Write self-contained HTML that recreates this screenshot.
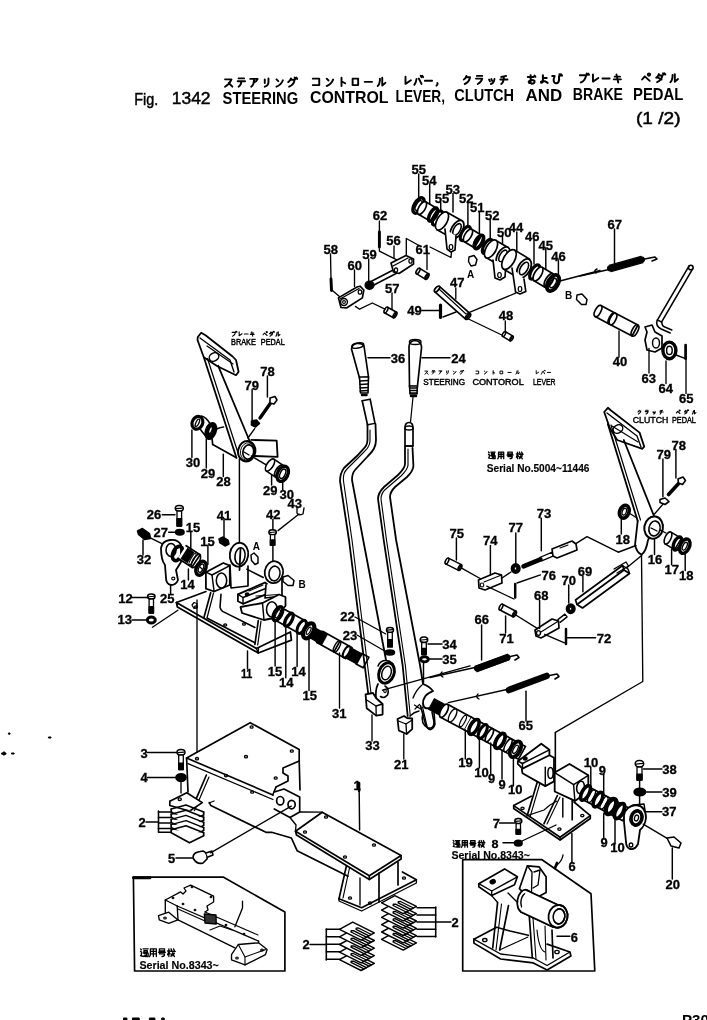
<!DOCTYPE html>
<html><head><meta charset="utf-8"><style>
html,body{margin:0;padding:0;background:#fff;}
body{width:707px;height:1020px;overflow:hidden;position:relative;}
svg{position:absolute;left:0;top:0;will-change:transform;}
svg path, svg ellipse, svg line, svg rect, svg polygon{stroke:#000;stroke-linejoin:round;stroke-linecap:round;}
text{font-family:"Liberation Sans",sans-serif;fill:#000;}
.n{font-weight:bold;}
.t{font-weight:bold;}
.s{font-family:"Liberation Serif",serif;font-weight:bold;}
</style></head><body>
<svg width="707" height="1020" viewBox="0 0 707 1020">
<text x="134.2" y="104.7" font-size="17.3" textLength="24.0" lengthAdjust="spacingAndGlyphs" stroke="#000" stroke-width="0.45">Fig.</text>
<text x="171.7" y="104.3" font-size="17.3" textLength="38.9" lengthAdjust="spacingAndGlyphs" stroke="#000" stroke-width="0.45">1342</text>
<text x="222.6" y="103.596" class="t" font-size="17.3" textLength="75.6" lengthAdjust="spacingAndGlyphs">STEERING</text>
<text x="310" y="102.7075" class="t" font-size="17.3" textLength="78.5" lengthAdjust="spacingAndGlyphs">CONTROL</text>
<text x="395.6" y="101.997" class="t" font-size="17.3" textLength="49.4" lengthAdjust="spacingAndGlyphs">LEVER,</text>
<text x="454.3" y="101.358" class="t" font-size="17.3" textLength="59.8" lengthAdjust="spacingAndGlyphs">CLUTCH</text>
<text x="525.5" y="100.7615" class="t" font-size="17.3" textLength="36.7" lengthAdjust="spacingAndGlyphs">AND</text>
<text x="572.8" y="100.221" class="t" font-size="17.3" textLength="50.2" lengthAdjust="spacingAndGlyphs">BRAKE</text>
<text x="633" y="99.6185" class="t" font-size="17.3" textLength="50.3" lengthAdjust="spacingAndGlyphs">PEDAL</text>
<text x="636" y="123.6" font-size="17" textLength="44.5" lengthAdjust="spacingAndGlyphs" stroke="#000" stroke-width="0.5">(1 /2)</text>
<text x="411.4" y="174.2" class="n" font-size="12" textLength="14.5" lengthAdjust="spacingAndGlyphs" stroke="#000" stroke-width="0.3">55</text>
<text x="422.0" y="184.5" class="n" font-size="12" textLength="14.5" lengthAdjust="spacingAndGlyphs" stroke="#000" stroke-width="0.3">54</text>
<text x="445.4" y="193.7" class="n" font-size="12" textLength="14.5" lengthAdjust="spacingAndGlyphs" stroke="#000" stroke-width="0.3">53</text>
<text x="434.8" y="202.7" class="n" font-size="12" textLength="14.5" lengthAdjust="spacingAndGlyphs" stroke="#000" stroke-width="0.3">55</text>
<text x="459.0" y="202.7" class="n" font-size="12" textLength="14.5" lengthAdjust="spacingAndGlyphs" stroke="#000" stroke-width="0.3">52</text>
<text x="469.9" y="212.1" class="n" font-size="12" textLength="14.5" lengthAdjust="spacingAndGlyphs" stroke="#000" stroke-width="0.3">51</text>
<text x="485.0" y="220.4" class="n" font-size="12" textLength="14.5" lengthAdjust="spacingAndGlyphs" stroke="#000" stroke-width="0.3">52</text>
<text x="496.9" y="237.0" class="n" font-size="12" textLength="14.5" lengthAdjust="spacingAndGlyphs" stroke="#000" stroke-width="0.3">50</text>
<text x="508.8" y="232.2" class="n" font-size="12" textLength="14.5" lengthAdjust="spacingAndGlyphs" stroke="#000" stroke-width="0.3">44</text>
<text x="525.0" y="240.8" class="n" font-size="12" textLength="14.5" lengthAdjust="spacingAndGlyphs" stroke="#000" stroke-width="0.3">46</text>
<text x="538.5" y="249.7" class="n" font-size="12" textLength="14.5" lengthAdjust="spacingAndGlyphs" stroke="#000" stroke-width="0.3">45</text>
<text x="551.2" y="261.1" class="n" font-size="12" textLength="14.5" lengthAdjust="spacingAndGlyphs" stroke="#000" stroke-width="0.3">46</text>
<text x="607.6" y="229.1" class="n" font-size="12" textLength="14.5" lengthAdjust="spacingAndGlyphs" stroke="#000" stroke-width="0.3">67</text>
<text x="372.8" y="219.9" class="n" font-size="12" textLength="14.5" lengthAdjust="spacingAndGlyphs" stroke="#000" stroke-width="0.3">62</text>
<text x="386.2" y="245.4" class="n" font-size="12" textLength="14.5" lengthAdjust="spacingAndGlyphs" stroke="#000" stroke-width="0.3">56</text>
<text x="415.6" y="254.4" class="n" font-size="12" textLength="14.5" lengthAdjust="spacingAndGlyphs" stroke="#000" stroke-width="0.3">61</text>
<text x="362.2" y="258.9" class="n" font-size="12" textLength="14.5" lengthAdjust="spacingAndGlyphs" stroke="#000" stroke-width="0.3">59</text>
<text x="323.4" y="254.0" class="n" font-size="12" textLength="14.5" lengthAdjust="spacingAndGlyphs" stroke="#000" stroke-width="0.3">58</text>
<text x="347.4" y="270.2" class="n" font-size="12" textLength="14.5" lengthAdjust="spacingAndGlyphs" stroke="#000" stroke-width="0.3">60</text>
<text x="384.9" y="292.8" class="n" font-size="12" textLength="14.5" lengthAdjust="spacingAndGlyphs" stroke="#000" stroke-width="0.3">57</text>
<text x="450.1" y="287.2" class="n" font-size="12" textLength="14.5" lengthAdjust="spacingAndGlyphs" stroke="#000" stroke-width="0.3">47</text>
<text x="470.6" y="277.5" class="n" font-size="10" text-anchor="middle">A</text>
<text x="407.2" y="315.4" class="n" font-size="12" textLength="14.5" lengthAdjust="spacingAndGlyphs" stroke="#000" stroke-width="0.3">49</text>
<text x="498.8" y="320.4" class="n" font-size="12" textLength="14.5" lengthAdjust="spacingAndGlyphs" stroke="#000" stroke-width="0.3">48</text>
<text x="568.7" y="298.9" class="n" font-size="10" text-anchor="middle">B</text>
<text x="612.8" y="365.9" class="n" font-size="12" textLength="14.5" lengthAdjust="spacingAndGlyphs" stroke="#000" stroke-width="0.3">40</text>
<text x="641.6" y="382.7" class="n" font-size="12" textLength="14.5" lengthAdjust="spacingAndGlyphs" stroke="#000" stroke-width="0.3">63</text>
<text x="658.4" y="393.0" class="n" font-size="12" textLength="14.5" lengthAdjust="spacingAndGlyphs" stroke="#000" stroke-width="0.3">64</text>
<text x="678.9" y="403.1" class="n" font-size="12" textLength="14.5" lengthAdjust="spacingAndGlyphs" stroke="#000" stroke-width="0.3">65</text>
<text x="390.8" y="362.8" class="n" font-size="12" textLength="14.5" lengthAdjust="spacingAndGlyphs" stroke="#000" stroke-width="0.3">36</text>
<text x="451.2" y="362.8" class="n" font-size="12" textLength="14.5" lengthAdjust="spacingAndGlyphs" stroke="#000" stroke-width="0.3">24</text>
<text x="260.2" y="375.8" class="n" font-size="12" textLength="14.5" lengthAdjust="spacingAndGlyphs" stroke="#000" stroke-width="0.3">78</text>
<text x="244.5" y="389.9" class="n" font-size="12" textLength="14.5" lengthAdjust="spacingAndGlyphs" stroke="#000" stroke-width="0.3">79</text>
<text x="185.8" y="466.9" class="n" font-size="12" textLength="14.5" lengthAdjust="spacingAndGlyphs" stroke="#000" stroke-width="0.3">30</text>
<text x="200.8" y="478.1" class="n" font-size="12" textLength="14.5" lengthAdjust="spacingAndGlyphs" stroke="#000" stroke-width="0.3">29</text>
<text x="216.2" y="485.8" class="n" font-size="12" textLength="14.5" lengthAdjust="spacingAndGlyphs" stroke="#000" stroke-width="0.3">28</text>
<text x="263.0" y="494.5" class="n" font-size="12" textLength="14.5" lengthAdjust="spacingAndGlyphs" stroke="#000" stroke-width="0.3">29</text>
<text x="279.6" y="498.7" class="n" font-size="12" textLength="14.5" lengthAdjust="spacingAndGlyphs" stroke="#000" stroke-width="0.3">30</text>
<text x="287.4" y="508.4" class="n" font-size="12" textLength="14.5" lengthAdjust="spacingAndGlyphs" stroke="#000" stroke-width="0.3">43</text>
<text x="216.7" y="519.6" class="n" font-size="12" textLength="14.5" lengthAdjust="spacingAndGlyphs" stroke="#000" stroke-width="0.3">41</text>
<text x="266.1" y="519.4" class="n" font-size="12" textLength="14.5" lengthAdjust="spacingAndGlyphs" stroke="#000" stroke-width="0.3">42</text>
<text x="146.8" y="519.2" class="n" font-size="12" textLength="14.5" lengthAdjust="spacingAndGlyphs" stroke="#000" stroke-width="0.3">26</text>
<text x="153.6" y="536.8" class="n" font-size="12" textLength="14.5" lengthAdjust="spacingAndGlyphs" stroke="#000" stroke-width="0.3">27</text>
<text x="185.7" y="532.1" class="n" font-size="12" textLength="14.5" lengthAdjust="spacingAndGlyphs" stroke="#000" stroke-width="0.3">15</text>
<text x="200.2" y="546.0" class="n" font-size="12" textLength="14.5" lengthAdjust="spacingAndGlyphs" stroke="#000" stroke-width="0.3">15</text>
<text x="136.7" y="563.9" class="n" font-size="12" textLength="14.5" lengthAdjust="spacingAndGlyphs" stroke="#000" stroke-width="0.3">32</text>
<text x="180.3" y="588.6" class="n" font-size="12" textLength="14.5" lengthAdjust="spacingAndGlyphs" stroke="#000" stroke-width="0.3">14</text>
<text x="160.1" y="602.9" class="n" font-size="12" textLength="14.5" lengthAdjust="spacingAndGlyphs" stroke="#000" stroke-width="0.3">25</text>
<text x="118.2" y="602.9" class="n" font-size="12" textLength="14.5" lengthAdjust="spacingAndGlyphs" stroke="#000" stroke-width="0.3">12</text>
<text x="117.6" y="624.4" class="n" font-size="12" textLength="14.5" lengthAdjust="spacingAndGlyphs" stroke="#000" stroke-width="0.3">13</text>
<text x="256.4" y="549.9" class="n" font-size="10" text-anchor="middle">A</text>
<text x="302.0" y="587.5" class="n" font-size="10" text-anchor="middle">B</text>
<text x="240.9" y="677.9" class="n" font-size="12" textLength="11.5" lengthAdjust="spacingAndGlyphs" stroke="#000" stroke-width="0.3">11</text>
<text x="267.8" y="675.6" class="n" font-size="12" textLength="14.5" lengthAdjust="spacingAndGlyphs" stroke="#000" stroke-width="0.3">15</text>
<text x="278.9" y="686.8" class="n" font-size="12" textLength="14.5" lengthAdjust="spacingAndGlyphs" stroke="#000" stroke-width="0.3">14</text>
<text x="291.2" y="675.9" class="n" font-size="12" textLength="14.5" lengthAdjust="spacingAndGlyphs" stroke="#000" stroke-width="0.3">14</text>
<text x="302.5" y="699.6" class="n" font-size="12" textLength="14.5" lengthAdjust="spacingAndGlyphs" stroke="#000" stroke-width="0.3">15</text>
<text x="332.1" y="717.9" class="n" font-size="12" textLength="14.5" lengthAdjust="spacingAndGlyphs" stroke="#000" stroke-width="0.3">31</text>
<text x="365.3" y="750.4" class="n" font-size="12" textLength="14.5" lengthAdjust="spacingAndGlyphs" stroke="#000" stroke-width="0.3">33</text>
<text x="340.2" y="621.1" class="n" font-size="12" textLength="14.5" lengthAdjust="spacingAndGlyphs" stroke="#000" stroke-width="0.3">22</text>
<text x="342.7" y="639.6" class="n" font-size="12" textLength="14.5" lengthAdjust="spacingAndGlyphs" stroke="#000" stroke-width="0.3">23</text>
<text x="394.1" y="768.7" class="n" font-size="12" textLength="14.5" lengthAdjust="spacingAndGlyphs" stroke="#000" stroke-width="0.3">21</text>
<text x="442.2" y="648.6" class="n" font-size="12" textLength="14.5" lengthAdjust="spacingAndGlyphs" stroke="#000" stroke-width="0.3">34</text>
<text x="442.2" y="663.7" class="n" font-size="12" textLength="14.5" lengthAdjust="spacingAndGlyphs" stroke="#000" stroke-width="0.3">35</text>
<text x="536.7" y="517.9" class="n" font-size="12" textLength="14.5" lengthAdjust="spacingAndGlyphs" stroke="#000" stroke-width="0.3">73</text>
<text x="449.5" y="537.6" class="n" font-size="12" textLength="14.5" lengthAdjust="spacingAndGlyphs" stroke="#000" stroke-width="0.3">75</text>
<text x="482.9" y="545.1" class="n" font-size="12" textLength="14.5" lengthAdjust="spacingAndGlyphs" stroke="#000" stroke-width="0.3">74</text>
<text x="508.5" y="532.4" class="n" font-size="12" textLength="14.5" lengthAdjust="spacingAndGlyphs" stroke="#000" stroke-width="0.3">77</text>
<text x="541.6" y="580.4" class="n" font-size="12" textLength="14.5" lengthAdjust="spacingAndGlyphs" stroke="#000" stroke-width="0.3">76</text>
<text x="577.8" y="576.2" class="n" font-size="12" textLength="14.5" lengthAdjust="spacingAndGlyphs" stroke="#000" stroke-width="0.3">69</text>
<text x="561.5" y="584.7" class="n" font-size="12" textLength="14.5" lengthAdjust="spacingAndGlyphs" stroke="#000" stroke-width="0.3">70</text>
<text x="534.0" y="600.2" class="n" font-size="12" textLength="14.5" lengthAdjust="spacingAndGlyphs" stroke="#000" stroke-width="0.3">68</text>
<text x="499.2" y="642.7" class="n" font-size="12" textLength="14.5" lengthAdjust="spacingAndGlyphs" stroke="#000" stroke-width="0.3">71</text>
<text x="596.8" y="642.7" class="n" font-size="12" textLength="14.5" lengthAdjust="spacingAndGlyphs" stroke="#000" stroke-width="0.3">72</text>
<text x="474.5" y="624.4" class="n" font-size="12" textLength="14.5" lengthAdjust="spacingAndGlyphs" stroke="#000" stroke-width="0.3">66</text>
<text x="518.6" y="729.9" class="n" font-size="12" textLength="14.5" lengthAdjust="spacingAndGlyphs" stroke="#000" stroke-width="0.3">65</text>
<text x="671.4" y="449.5" class="n" font-size="12" textLength="14.5" lengthAdjust="spacingAndGlyphs" stroke="#000" stroke-width="0.3">78</text>
<text x="656.5" y="459.4" class="n" font-size="12" textLength="14.5" lengthAdjust="spacingAndGlyphs" stroke="#000" stroke-width="0.3">79</text>
<text x="615.5" y="543.6" class="n" font-size="12" textLength="14.5" lengthAdjust="spacingAndGlyphs" stroke="#000" stroke-width="0.3">18</text>
<text x="647.8" y="563.7" class="n" font-size="12" textLength="14.5" lengthAdjust="spacingAndGlyphs" stroke="#000" stroke-width="0.3">16</text>
<text x="664.5" y="574.3" class="n" font-size="12" textLength="14.5" lengthAdjust="spacingAndGlyphs" stroke="#000" stroke-width="0.3">17</text>
<text x="678.9" y="579.9" class="n" font-size="12" textLength="14.5" lengthAdjust="spacingAndGlyphs" stroke="#000" stroke-width="0.3">18</text>
<text x="458.2" y="767.4" class="n" font-size="12" textLength="14.5" lengthAdjust="spacingAndGlyphs" stroke="#000" stroke-width="0.3">19</text>
<text x="474.2" y="776.5" class="n" font-size="12" textLength="14.5" lengthAdjust="spacingAndGlyphs" stroke="#000" stroke-width="0.3">10</text>
<text x="488.0" y="782.9" class="n" font-size="12" textLength="7.2" lengthAdjust="spacingAndGlyphs" stroke="#000" stroke-width="0.3">9</text>
<text x="498.6" y="788.8" class="n" font-size="12" textLength="7.2" lengthAdjust="spacingAndGlyphs" stroke="#000" stroke-width="0.3">9</text>
<text x="507.9" y="793.8" class="n" font-size="12" textLength="14.5" lengthAdjust="spacingAndGlyphs" stroke="#000" stroke-width="0.3">10</text>
<text x="583.8" y="766.8" class="n" font-size="12" textLength="14.5" lengthAdjust="spacingAndGlyphs" stroke="#000" stroke-width="0.3">10</text>
<text x="598.7" y="775.3" class="n" font-size="12" textLength="7.2" lengthAdjust="spacingAndGlyphs" stroke="#000" stroke-width="0.3">9</text>
<text x="600.6" y="847.0" class="n" font-size="12" textLength="7.2" lengthAdjust="spacingAndGlyphs" stroke="#000" stroke-width="0.3">9</text>
<text x="610.2" y="852.2" class="n" font-size="12" textLength="14.5" lengthAdjust="spacingAndGlyphs" stroke="#000" stroke-width="0.3">10</text>
<text x="662.2" y="774.0" class="n" font-size="12" textLength="14.5" lengthAdjust="spacingAndGlyphs" stroke="#000" stroke-width="0.3">38</text>
<text x="662.2" y="796.6" class="n" font-size="12" textLength="14.5" lengthAdjust="spacingAndGlyphs" stroke="#000" stroke-width="0.3">39</text>
<text x="662.0" y="815.9" class="n" font-size="12" textLength="14.5" lengthAdjust="spacingAndGlyphs" stroke="#000" stroke-width="0.3">37</text>
<text x="665.5" y="888.6" class="n" font-size="12" textLength="14.5" lengthAdjust="spacingAndGlyphs" stroke="#000" stroke-width="0.3">20</text>
<text x="492.7" y="828.2" class="n" font-size="12" textLength="7.2" lengthAdjust="spacingAndGlyphs" stroke="#000" stroke-width="0.3">7</text>
<text x="568.6" y="870.9" class="n" font-size="12" textLength="7.2" lengthAdjust="spacingAndGlyphs" stroke="#000" stroke-width="0.3">6</text>
<text x="570.7" y="941.6" class="n" font-size="12" textLength="7.2" lengthAdjust="spacingAndGlyphs" stroke="#000" stroke-width="0.3">6</text>
<text x="451.4" y="927.4" class="n" font-size="12" textLength="7.2" lengthAdjust="spacingAndGlyphs" stroke="#000" stroke-width="0.3">2</text>
<text x="140.6" y="757.8" class="n" font-size="12" textLength="7.2" lengthAdjust="spacingAndGlyphs" stroke="#000" stroke-width="0.3">3</text>
<text x="140.6" y="782.4" class="n" font-size="12" textLength="7.2" lengthAdjust="spacingAndGlyphs" stroke="#000" stroke-width="0.3">4</text>
<text x="138.5" y="826.6" class="n" font-size="12" textLength="7.2" lengthAdjust="spacingAndGlyphs" stroke="#000" stroke-width="0.3">2</text>
<text x="167.9" y="863.4" class="n" font-size="12" textLength="7.2" lengthAdjust="spacingAndGlyphs" stroke="#000" stroke-width="0.3">5</text>
<text x="353.4" y="790.2" class="n" font-size="12" textLength="7.2" lengthAdjust="spacingAndGlyphs" stroke="#000" stroke-width="0.3">1</text>
<text x="302.4" y="949.4" class="n" font-size="12" textLength="7.2" lengthAdjust="spacingAndGlyphs" stroke="#000" stroke-width="0.3">2</text>
<text x="231" y="345.2" font-size="8.6" textLength="24.8" lengthAdjust="spacingAndGlyphs" stroke="#000" stroke-width="0.45">BRAKE</text>
<text x="260.8" y="345.2" font-size="8.6" textLength="23.9" lengthAdjust="spacingAndGlyphs" stroke="#000" stroke-width="0.45">PEDAL</text>
<text x="423.2" y="384.6" font-size="9.2" textLength="42.0" lengthAdjust="spacingAndGlyphs" stroke="#000" stroke-width="0.45">STEERING</text>
<text x="472.4" y="384.6" font-size="9.2" textLength="51.3" lengthAdjust="spacingAndGlyphs" stroke="#000" stroke-width="0.45">CONTOROL</text>
<text x="533" y="384.6" font-size="9.2" textLength="22.5" lengthAdjust="spacingAndGlyphs" stroke="#000" stroke-width="0.45">LEVER</text>
<text x="632.8" y="423.1" font-size="9.4" textLength="35.5" lengthAdjust="spacingAndGlyphs" stroke="#000" stroke-width="0.45">CLUTCH</text>
<text x="672" y="423.1" font-size="9.4" textLength="23.9" lengthAdjust="spacingAndGlyphs" stroke="#000" stroke-width="0.45">PEDAL</text>
<text x="486.8" y="472.2" font-size="11.5" textLength="102.7" lengthAdjust="spacingAndGlyphs" font-weight="bold" stroke="#000" stroke-width="0.15">Serial  No.5004~11446</text>
<text x="451.4" y="859.2" font-size="11.5" textLength="78.5" lengthAdjust="spacingAndGlyphs" font-weight="bold" stroke="#000" stroke-width="0.15">Serial  No.8343~</text>
<text x="139.4" y="968.6" font-size="11.5" textLength="79.4" lengthAdjust="spacingAndGlyphs" font-weight="bold" stroke="#000" stroke-width="0.15">Serial  No.8343~</text>
<text x="491.5" y="848" class="n" font-size="11.5" textLength="7" lengthAdjust="spacingAndGlyphs" stroke="#000" stroke-width="0.3">8</text>
<text x="682" y="1025" font-size="15" font-weight="bold" textLength="27" lengthAdjust="spacingAndGlyphs">P30</text>
<rect x="123.9" y="1018" width="3.0" height="2" fill="#000"/>
<rect x="132.8" y="1018" width="6.4" height="2" fill="#000"/>
<rect x="149.8" y="1018" width="5.1" height="2" fill="#000"/>
<rect x="162.1" y="1018" width="2.1" height="2" fill="#000"/>
<rect x="8.8" y="733" width="1.2" height="1.2" fill="#000"/>
<rect x="48.8" y="737" width="2.2" height="1" fill="#000"/>
<rect x="2" y="753" width="4" height="1.2" fill="#000"/><rect x="3.5" y="752" width="1.2" height="3" fill="#000"/>
<rect x="11.9" y="753" width="2.2" height="1" fill="#000"/>
<ellipse cx="418.5" cy="205.5" rx="4.2" ry="8.5" transform="rotate(30 418.5 205.5)" stroke-width="3.4" fill="none"/>
<ellipse cx="418.5" cy="205.5" rx="2.2" ry="5.5" transform="rotate(30 418.5 205.5)" stroke-width="1.344" fill="none"/>
<path d="M418.4,214.2 L430.4,221.2 L437.6,208.8 L425.6,201.8" stroke-width="1.6800000000000002" fill="none"/>
<ellipse cx="434" cy="215" rx="3.24" ry="7.2" transform="rotate(30.256437163529263 434 215)" stroke-width="1.6800000000000002" fill="none"/>
<ellipse cx="422" cy="208" rx="3.24" ry="7.2" transform="rotate(30.256437163529263 422 208)" stroke-width="1.6800000000000002" fill="white"/>
<ellipse cx="433" cy="214.5" rx="3.2" ry="7.6" transform="rotate(30 433 214.5)" stroke-width="3.0" fill="none"/>
<ellipse cx="437.5" cy="218" rx="3.8" ry="8" transform="rotate(30 437.5 218)" stroke-width="3.2" fill="none"/>
<path d="M437.1,229.7 L452.1,238.2 L461.9,220.8 L446.9,212.3" stroke-width="1.6800000000000002" fill="none"/>
<ellipse cx="442" cy="221" rx="5" ry="10" transform="rotate(30 442 221)" stroke-width="1.6800000000000002" fill="white"/>
<ellipse cx="457" cy="229.5" rx="5.5" ry="10" transform="rotate(30 457 229.5)" stroke-width="1.7920000000000003" fill="white"/>
<ellipse cx="457" cy="229.5" rx="3.2" ry="6.5" transform="rotate(30 457 229.5)" stroke-width="1.568" fill="none"/>
<path d="M445.0,229.0 L447.0,249.0 L451.0,252.0 L455.0,250.0 L456.0,236.0" stroke-width="1.6800000000000002" fill="white"/>
<ellipse cx="451" cy="247" rx="1.8" ry="2.5" transform="rotate(0 451 247)" stroke-width="1.2320000000000002" fill="none"/>
<ellipse cx="465.3" cy="233.5" rx="3.6" ry="8" transform="rotate(30 465.3 233.5)" stroke-width="3.2" fill="none"/>
<path d="M464.3,241.7 L474.3,247.7 L481.7,235.3 L471.7,229.3" stroke-width="1.6800000000000002" fill="none"/>
<ellipse cx="478" cy="241.5" rx="3.24" ry="7.2" transform="rotate(30.96375653207352 478 241.5)" stroke-width="1.6800000000000002" fill="none"/>
<ellipse cx="468" cy="235.5" rx="3.24" ry="7.2" transform="rotate(30.96375653207352 468 235.5)" stroke-width="1.6800000000000002" fill="white"/>
<ellipse cx="479" cy="242" rx="3.4" ry="7.6" transform="rotate(30 479 242)" stroke-width="3.4" fill="none"/>
<ellipse cx="487.4" cy="246.5" rx="3.6" ry="8" transform="rotate(30 487.4 246.5)" stroke-width="3.2" fill="none"/>
<path d="M486.0,257.6 L498.0,264.6 L508.0,247.4 L496.0,240.4" stroke-width="1.6800000000000002" fill="none"/>
<ellipse cx="491" cy="249" rx="5" ry="10" transform="rotate(30 491 249)" stroke-width="1.6800000000000002" fill="white"/>
<ellipse cx="503" cy="256" rx="5.5" ry="10" transform="rotate(30 503 256)" stroke-width="1.7920000000000003" fill="white"/>
<ellipse cx="503" cy="256" rx="3.2" ry="6.5" transform="rotate(30 503 256)" stroke-width="1.568" fill="none"/>
<path d="M493.0,260.0 L495.0,278.0 L500.0,280.0 L505.0,277.0 L506.0,264.0" stroke-width="1.6800000000000002" fill="white"/>
<ellipse cx="499.5" cy="275" rx="1.8" ry="2.5" transform="rotate(0 499.5 275)" stroke-width="1.2320000000000002" fill="none"/>
<path d="M503.3,268.9 L518.3,277.9 L529.7,259.1 L514.7,250.1" stroke-width="1.6800000000000002" fill="none"/>
<ellipse cx="509" cy="259.5" rx="5.5" ry="11" transform="rotate(30 509 259.5)" stroke-width="1.6800000000000002" fill="white"/>
<ellipse cx="524" cy="268.5" rx="6" ry="10.5" transform="rotate(30 524 268.5)" stroke-width="1.7920000000000003" fill="white"/>
<ellipse cx="524" cy="268.5" rx="3.5" ry="7" transform="rotate(30 524 268.5)" stroke-width="1.568" fill="none"/>
<path d="M512.0,268.0 L515.6,292.0 L520.0,294.0 L525.8,291.5 L524.0,279.0" stroke-width="1.6800000000000002" fill="white"/>
<ellipse cx="520" cy="289" rx="1.8" ry="2.5" transform="rotate(0 520 289)" stroke-width="1.2320000000000002" fill="none"/>
<ellipse cx="534.7" cy="272" rx="3.6" ry="8" transform="rotate(30 534.7 272)" stroke-width="3.2" fill="none"/>
<path d="M534.0,280.7 L545.0,287.2 L553.0,273.8 L542.0,267.3" stroke-width="1.6800000000000002" fill="none"/>
<ellipse cx="549" cy="280.5" rx="3.51" ry="7.8" transform="rotate(30.579226872489016 549 280.5)" stroke-width="1.6800000000000002" fill="none"/>
<ellipse cx="538" cy="274" rx="3.51" ry="7.8" transform="rotate(30.579226872489016 538 274)" stroke-width="1.6800000000000002" fill="white"/>
<ellipse cx="553" cy="283" rx="5" ry="8.8" transform="rotate(30 553 283)" stroke-width="3.8" fill="none"/>
<ellipse cx="553" cy="283" rx="2.6" ry="5.2" transform="rotate(30 553 283)" stroke-width="1.4560000000000002" fill="none"/>
<path d="M559.0,281.3 L600.0,270.5" stroke-width="1.4560000000000002" fill="none"/>
<path d="M597,269 q-4,2 -1,4" stroke-width="1.4560000000000002" fill="none"/>
<path d="M610.9,271.6 L642.9,262.6 L641.1,256.4 L609.1,265.4" stroke-width="1.12" fill="none"/>
<path d="M610.0,268.5 L642.0,259.5" stroke-width="6.0" fill="none"/>
<path d="M642.0,259.5 L655.0,257.0 L657.0,259.0 L652.0,261.0" stroke-width="1.568" fill="none"/>
<path d="M609.0,269.5 L580.0,276.0" stroke-width="1.344" fill="none"/>
<path d="M614.5,229.0 L614.5,263.0" stroke-width="1.4560000000000002" fill="none"/>
<path d="M418.7,174.0 L418.7,199.0" stroke-width="1.4560000000000002" fill="none"/>
<path d="M429.7,184.0 L429.7,204.0" stroke-width="1.4560000000000002" fill="none"/>
<path d="M453.0,193.5 L453.0,212.0" stroke-width="1.4560000000000002" fill="none"/>
<path d="M440.7,202.0 L440.7,211.5" stroke-width="1.4560000000000002" fill="none"/>
<path d="M467.9,202.0 L467.9,226.0" stroke-width="1.4560000000000002" fill="none"/>
<path d="M479.4,211.5 L479.4,233.0" stroke-width="1.4560000000000002" fill="none"/>
<path d="M490.2,219.5 L490.2,239.0" stroke-width="1.4560000000000002" fill="none"/>
<path d="M502.5,236.5 L502.5,244.0" stroke-width="1.4560000000000002" fill="none"/>
<path d="M516.8,232.0 L516.8,251.6" stroke-width="1.4560000000000002" fill="none"/>
<path d="M534.0,240.0 L534.0,264.0" stroke-width="1.4560000000000002" fill="none"/>
<path d="M545.8,248.5 L545.8,268.6" stroke-width="1.4560000000000002" fill="none"/>
<path d="M558.4,260.0 L558.4,277.0" stroke-width="1.4560000000000002" fill="none"/>
<path d="M372.0,286.0 L399.0,272.0 L397.0,268.0 L370.0,282.0" stroke-width="1.4560000000000002" fill="none"/>
<ellipse cx="369.5" cy="285.2" rx="4.5" ry="4.2" transform="rotate(0 369.5 285.2)" stroke-width="1.12" fill="#000"/>
<path d="M391.0,263.0 L406.0,255.5 L413.5,259.0 L413.5,264.0 L399.0,273.5 L393.5,272.0 Z" stroke-width="1.6800000000000002" fill="white"/>
<path d="M393.0,266.0 L408.0,258.0" stroke-width="1.344" fill="none"/>
<ellipse cx="410.5" cy="261" rx="1.6" ry="2.2" transform="rotate(0 410.5 261)" stroke-width="1.2320000000000002" fill="none"/>
<ellipse cx="396" cy="270" rx="1.6" ry="2.2" transform="rotate(0 396 270)" stroke-width="1.2320000000000002" fill="none"/>
<path d="M416.3,273.7 L425.3,279.2 L428.7,273.8 L419.7,268.3" stroke-width="1.568" fill="none"/>
<ellipse cx="427" cy="276.5" rx="1.4400000000000002" ry="3.2" transform="rotate(31.429565614838516 427 276.5)" stroke-width="1.568" fill="none"/>
<ellipse cx="418" cy="271" rx="1.4400000000000002" ry="3.2" transform="rotate(31.429565614838516 418 271)" stroke-width="1.568" fill="white"/>
<path d="M406.3,255.5 L406.3,238.5 L419.0,245.5" stroke-width="1.344" fill="none"/>
<path d="M427.0,249.8 L427.0,269.6" stroke-width="1.344" fill="none"/>
<path d="M430.0,247.0 L451.0,257.5 L451.5,252.0" stroke-width="1.344" fill="none"/>
<path d="M394.0,246.0 L394.0,258.0" stroke-width="1.344" fill="none"/>
<path d="M379.4,221.0 L379.4,247.0" stroke-width="1.344" fill="none"/>
<path d="M379.4,232.0 L379.4,247.0" stroke-width="2.9120000000000004" fill="none"/>
<path d="M379.4,247.0 L379.4,251.2 L396.4,259.7" stroke-width="1.344" fill="none"/>
<path d="M368.7,259.0 L368.7,281.0" stroke-width="1.344" fill="none"/>
<path d="M330.5,254.0 L331.0,279.0" stroke-width="1.344" fill="none"/>
<path d="M331.0,279.0 L331.5,290.5" stroke-width="2.9120000000000004" fill="none"/>
<path d="M332.7,290.8 L341.2,297.9" stroke-width="1.344" fill="none"/>
<path d="M338.4,297.9 L357.0,287.0 L360.0,286.2 L363.8,290.0 L362.4,297.9 L346.9,307.8 L341.0,307.5 Z" stroke-width="1.6800000000000002" fill="white"/>
<path d="M340.0,299.0 L359.0,288.5" stroke-width="1.344" fill="none"/>
<ellipse cx="344" cy="302" rx="3.4" ry="3.4" transform="rotate(0 344 302)" stroke-width="1.4560000000000002" fill="none"/>
<ellipse cx="344" cy="302" rx="1.4" ry="1.4" transform="rotate(0 344 302)" stroke-width="1.12" fill="none"/>
<ellipse cx="360" cy="292" rx="1.8" ry="2.2" transform="rotate(0 360 292)" stroke-width="1.2320000000000002" fill="none"/>
<path d="M354.5,270.0 L354.5,286.6" stroke-width="1.344" fill="none"/>
<path d="M392.0,293.0 L392.0,309.0" stroke-width="1.344" fill="none"/>
<path d="M384.4,312.8 L393.4,317.8 L396.6,312.2 L387.6,307.2" stroke-width="1.568" fill="none"/>
<ellipse cx="395" cy="315" rx="1.4400000000000002" ry="3.2" transform="rotate(29.054604099077146 395 315)" stroke-width="1.568" fill="none"/>
<ellipse cx="386" cy="310" rx="1.4400000000000002" ry="3.2" transform="rotate(29.054604099077146 386 310)" stroke-width="1.568" fill="white"/>
<path d="M355.4,306.4 L359.6,309.2 L372.3,303.0 L385.0,309.2" stroke-width="1.344" fill="none"/>
<path d="M469,257 l5,-1.5 l3,4 l-1.5,5.5 l-4.5,1 l-2.5,-4.5 z" stroke-width="1.4560000000000002" fill="none"/>
<path d="M434.6,291.7 L465.6,319.2 L470.4,313.8 L439.4,286.3" stroke-width="1.6800000000000002" fill="none"/>
<ellipse cx="468" cy="316.5" rx="1.62" ry="3.6" transform="rotate(41.57612875506932 468 316.5)" stroke-width="1.6800000000000002" fill="none"/>
<ellipse cx="437" cy="289" rx="1.62" ry="3.6" transform="rotate(41.57612875506932 437 289)" stroke-width="1.6800000000000002" fill="white"/>
<path d="M439.0,289.0 L466.0,314.0" stroke-width="1.12" fill="none"/>
<path d="M455.8,288.0 L455.8,299.0" stroke-width="1.344" fill="none"/>
<path d="M440.5,305.0 L440.5,317.5" stroke-width="3.2" fill="none"/>
<path d="M421.8,310.6 L438.8,310.6" stroke-width="1.4560000000000002" fill="none"/>
<path d="M443.0,317.0 L456.0,312.0" stroke-width="1.344" fill="none"/>
<path d="M467.0,313.4 L515.6,293.2" stroke-width="1.344" fill="none"/>
<path d="M468.5,319.0 L503.9,336.0" stroke-width="1.344" fill="none"/>
<path d="M502.6,336.4 L510.1,340.9 L512.9,336.1 L505.4,331.6" stroke-width="1.4560000000000002" fill="none"/>
<ellipse cx="511.5" cy="338.5" rx="1.26" ry="2.8" transform="rotate(30.96375653207352 511.5 338.5)" stroke-width="1.4560000000000002" fill="none"/>
<ellipse cx="504" cy="334" rx="1.26" ry="2.8" transform="rotate(30.96375653207352 504 334)" stroke-width="1.4560000000000002" fill="white"/>
<path d="M505.3,321.0 L505.3,333.0" stroke-width="1.344" fill="none"/>
<path d="M577,295 l5,-1 l5,5.5 l-1,5 l-4.5,0 l-5,-5 z" stroke-width="1.4560000000000002" fill="none"/>
<path d="M595.1,316.5 L609.1,324.0 L614.9,313.0 L600.9,305.5" stroke-width="1.6800000000000002" fill="none"/>
<ellipse cx="612" cy="318.5" rx="2.79" ry="6.2" transform="rotate(28.178590109959174 612 318.5)" stroke-width="1.6800000000000002" fill="none"/>
<ellipse cx="598" cy="311" rx="2.79" ry="6.2" transform="rotate(28.178590109959174 598 311)" stroke-width="1.6800000000000002" fill="white"/>
<path d="M610.1,324.5 L632.1,336.0 L637.9,325.0 L615.9,313.5" stroke-width="1.6800000000000002" fill="none"/>
<ellipse cx="635" cy="330.5" rx="2.79" ry="6.2" transform="rotate(27.59729586864372 635 330.5)" stroke-width="1.6800000000000002" fill="none"/>
<ellipse cx="613" cy="319" rx="2.79" ry="6.2" transform="rotate(27.59729586864372 613 319)" stroke-width="1.6800000000000002" fill="white"/>
<path d="M619.0,331.0 L619.0,357.0" stroke-width="1.344" fill="none"/>
<path d="M645.0,327.0 L652.0,325.0 L655.0,332.0 L662.0,336.0 L662.0,348.0 L655.0,352.0 L647.0,350.0 L645.0,340.0 L647.0,332.0 Z" stroke-width="1.6800000000000002" fill="white"/>
<ellipse cx="656" cy="343" rx="3.5" ry="5" transform="rotate(0 656 343)" stroke-width="1.4560000000000002" fill="none"/>
<path d="M649.0,348.5 L649.0,373.0" stroke-width="1.344" fill="none"/>
<ellipse cx="669.4" cy="350.4" rx="6.5" ry="8.3" transform="rotate(0 669.4 350.4)" stroke-width="3.4" fill="none"/>
<ellipse cx="669.4" cy="350.4" rx="2.8" ry="4.2" transform="rotate(0 669.4 350.4)" stroke-width="1.4560000000000002" fill="none"/>
<path d="M666.0,361.0 L666.0,383.5" stroke-width="1.344" fill="none"/>
<path d="M685.6,345.0 L685.6,358.7" stroke-width="2.688" fill="none"/>
<path d="M676.0,355.0 L685.6,358.7" stroke-width="1.344" fill="none"/>
<path d="M686.0,359.0 L686.0,393.5" stroke-width="1.344" fill="none"/>
<path d="M688.8,266.3 L657.5,319.8 L661.5,322.2 L692.8,268.7" stroke-width="1.568" fill="none"/>
<path d="M657.2,320 q-2,6 4,9 l9,4" stroke-width="1.568" fill="none"/>
<path d="M661.8,322 q-0,4 3,5 l7,3" stroke-width="1.568" fill="none"/>
<ellipse cx="690.8" cy="267.5" rx="2.3" ry="2.3" transform="rotate(0 690.8 267.5)" stroke-width="1.568" fill="none"/>
<path d="M197.8,337.0 L201.2,332.7 L205.5,335.3 L232.6,356.5 L236.0,360.0 L238.6,371.8 L236.0,375.2 L217.0,366.0 L203.8,357.3 L197.5,340.0 Z" stroke-width="1.7920000000000003" fill="white"/>
<path d="M200.0,338.0 L230.0,360.0 L234.0,372.0" stroke-width="1.344" fill="none"/>
<path d="M207.0,346.0 L233.0,364.0" stroke-width="1.2320000000000002" fill="none"/>
<ellipse cx="214" cy="357" rx="5" ry="4" transform="rotate(-30 214 357)" stroke-width="1.4560000000000002" fill="none"/>
<path d="M203.8,357.3 L236.5,458.0" stroke-width="1.7920000000000003" fill="none"/>
<path d="M207.5,358.5 L239.0,456.0" stroke-width="1.2320000000000002" fill="none"/>
<path d="M218.2,365.8 L249.6,441.0" stroke-width="1.7920000000000003" fill="none"/>
<ellipse cx="246.7" cy="451.2" rx="8.6" ry="10.2" transform="rotate(10 246.7 451.2)" stroke-width="2.0160000000000005" fill="white"/>
<ellipse cx="248.3" cy="452" rx="5.4" ry="7.2" transform="rotate(10 248.3 452)" stroke-width="1.6800000000000002" fill="none"/>
<ellipse cx="247.5" cy="451.6" rx="7" ry="8.8" transform="rotate(10 247.5 451.6)" stroke-width="0.8960000000000001" fill="none"/>
<path d="M244.0,452.0 L249.0,455.0" stroke-width="1.344" fill="none"/>
<path d="M251.3,439.9 L276.7,440.7 L277.6,456.9 L254.7,456.0" stroke-width="1.7920000000000003" fill="none"/>
<path d="M213.8,431 Q217,428 223.5,427" stroke-width="1.6800000000000002" fill="none"/>
<path d="M212.1,439 L212.7,444.6 L236,457.5" stroke-width="1.6800000000000002" fill="none"/>
<path d="M201,416.5 L210,423.5 L211,438.5 L200,430 Z" fill="white" style="stroke:none"/>
<path d="M201.5,416 Q206,417 210,423.5 M200.5,429.5 Q205,436 209,438.5" stroke-width="1.568" fill="none"/>
<ellipse cx="210.8" cy="431" rx="4.2" ry="7.6" transform="rotate(20 210.8 431)" stroke-width="3.6" fill="#000"/>
<ellipse cx="210.5" cy="430" rx="1.2" ry="3.5" transform="rotate(20 210.5 430)" stroke-width="1.12" fill="none"/>
<ellipse cx="210.5" cy="430" rx="0.8" ry="3" transform="rotate(20 210.5 430)" fill="white" style="stroke:none"/>
<ellipse cx="197.4" cy="422.8" rx="5.2" ry="6.6" transform="rotate(25 197.4 422.8)" stroke-width="3.136" fill="white"/>
<ellipse cx="197.4" cy="422.8" rx="1.5" ry="4" transform="rotate(25 197.4 422.8)" stroke-width="1.344" fill="none"/>
<path d="M251.3,456.0 L268.3,466.2" stroke-width="1.4560000000000002" fill="none"/>
<path d="M266.1,470.8 L275.1,476.8 L282.9,465.2 L273.9,459.2" stroke-width="1.568" fill="none"/>
<ellipse cx="279" cy="471" rx="3.15" ry="7" transform="rotate(33.690067525979785 279 471)" stroke-width="1.568" fill="none"/>
<ellipse cx="270" cy="465" rx="3.15" ry="7" transform="rotate(33.690067525979785 270 465)" stroke-width="1.568" fill="white"/>
<ellipse cx="282.7" cy="473.8" rx="5.2" ry="8" transform="rotate(25 282.7 473.8)" stroke-width="3.4" fill="white"/>
<ellipse cx="282.7" cy="473.8" rx="2.5" ry="5" transform="rotate(25 282.7 473.8)" stroke-width="1.4560000000000002" fill="none"/>
<path d="M277.0,468.0 L280.0,470.0" stroke-width="1.12" fill="none"/>
<path d="M191.9,430.0 L191.9,457.5" stroke-width="1.4560000000000002" fill="none"/>
<path d="M206.3,439.0 L206.3,468.0" stroke-width="1.4560000000000002" fill="none"/>
<path d="M223.3,454.3 L223.3,476.4" stroke-width="1.4560000000000002" fill="none"/>
<path d="M271.6,474.7 L271.6,485.0" stroke-width="1.4560000000000002" fill="none"/>
<path d="M282.7,481.5 L282.7,490.0" stroke-width="1.4560000000000002" fill="none"/>
<path d="M239.4,459.0 L239.4,585.0" stroke-width="1.4560000000000002" fill="none"/>
<path d="M260.0,418.0 L272.0,401.0" stroke-width="3.4" fill="none"/>
<path d="M270,398 l5,-1.5 l2,3.5 l-3,4 l-4,-1 z" stroke-width="1.568" fill="white"/>
<path d="M251.5,421 l5,-1 l3,3.5 l-4,3.5 l-4,-2 z" stroke-width="1.568" fill="#000"/>
<path d="M267.4,376.0 L267.4,397.0" stroke-width="1.4560000000000002" fill="none"/>
<path d="M252.1,389.6 L252.1,420.0" stroke-width="1.4560000000000002" fill="none"/>
<path d="M254.7,428.6 L247.9,438.0" stroke-width="1.344" fill="none"/>
<rect x="175.3" y="505.6" width="8.0" height="5.5" rx="3.6" ry="2.8" fill="white" stroke-width="1.5"/>
<path d="M176.3,508.6 L182.3,508.1" stroke-width="1.12" fill="none"/>
<rect x="177.0" y="511.1" width="4.6" height="15.0" fill="white" stroke-width="1.3"/>
<rect x="177.0" y="518.6" width="4.6" height="7.5" fill="#000" stroke-width="1.3"/>
<path d="M162.3,514.8 L175.0,514.8" stroke-width="1.4560000000000002" fill="none"/>
<ellipse cx="179.8" cy="532.2" rx="4.2" ry="2.6" transform="rotate(0 179.8 532.2)" stroke-width="1.6800000000000002" fill="#000"/>
<path d="M168.7,532.3 L175.0,532.3" stroke-width="1.4560000000000002" fill="none"/>
<path d="M161,548 Q162,541 170,540 Q178,539 181,545 L181,562 Q178,567 176,570 L178,580 Q176,585 171,585 Q166,584 166,578 L165,565 Q161,560 161,548 Z" stroke-width="1.7920000000000003" fill="white"/>
<ellipse cx="171" cy="550" rx="5" ry="6.5" transform="rotate(0 171 550)" stroke-width="1.568" fill="none"/>
<ellipse cx="173.3" cy="578.5" rx="1.6" ry="1.4" transform="rotate(0 173.3 578.5)" stroke-width="1.12" fill="none"/>
<ellipse cx="177.5" cy="553.5" rx="4.5" ry="7.5" transform="rotate(25 177.5 553.5)" stroke-width="3.6" fill="none"/>
<path d="M177.9,558.3 L191.9,567.3 L200.1,554.7 L186.1,545.7" stroke-width="1.6800000000000002" fill="white"/>
<path d="M184.0,553.3 L191.0,557.7" stroke-width="13" fill="none" style="stroke-linecap:butt"/>
<ellipse cx="196" cy="561" rx="3.2" ry="7.5" transform="rotate(30 196 561)" stroke-width="1.568" fill="none"/>
<ellipse cx="192.5" cy="559" rx="1.5" ry="6.5" transform="rotate(30 192.5 559)" stroke-width="1.12" fill="none"/>
<ellipse cx="201" cy="568.2" rx="4.6" ry="7.4" transform="rotate(25 201 568.2)" stroke-width="3.4" fill="white"/>
<ellipse cx="201" cy="568.2" rx="2.2" ry="4.4" transform="rotate(25 201 568.2)" stroke-width="1.344" fill="none"/>
<path d="M199.0,566.0 L203.0,570.0" stroke-width="1.12" fill="none"/>
<path d="M137.5,531 l5,-2.5 l7,5 l1,5 l-6,1 l-6,-5 z" stroke-width="1.4560000000000002" fill="#000"/>
<path d="M150.3,537.8 L161.4,543.3" stroke-width="1.344" fill="none"/>
<path d="M143.0,540.0 L143.0,555.0" stroke-width="1.4560000000000002" fill="none"/>
<path d="M190.8,531.5 L190.8,552.5" stroke-width="1.4560000000000002" fill="none"/>
<path d="M207.9,545.2 L207.9,564.5" stroke-width="1.4560000000000002" fill="none"/>
<path d="M188.4,569.0 L188.4,580.0" stroke-width="1.4560000000000002" fill="none"/>
<path d="M170.6,585.5 L170.6,594.0" stroke-width="1.4560000000000002" fill="none"/>
<rect x="147.6" y="594.0" width="7.4" height="5.0" rx="3.4" ry="2.5" fill="white" stroke-width="1.5"/>
<path d="M148.6,596.8 L154.0,596.2" stroke-width="1.12" fill="none"/>
<rect x="149.1" y="599.0" width="4.4" height="14.0" fill="white" stroke-width="1.3"/>
<rect x="149.1" y="606.7" width="4.4" height="6.3" fill="#000" stroke-width="1.3"/>
<path d="M132.0,597.6 L147.6,597.6" stroke-width="1.4560000000000002" fill="none"/>
<ellipse cx="151.3" cy="620" rx="4" ry="3" transform="rotate(0 151.3 620)" stroke-width="3.0" fill="none"/>
<path d="M132.0,620.0 L147.0,620.0" stroke-width="1.4560000000000002" fill="none"/>
<path d="M152.4,627.2 L177.9,610.2" stroke-width="1.344" fill="none"/>
<path d="M219,539 l4,-2 l5,3 l1,4 l-4,2 l-5,-3 z" stroke-width="1.4560000000000002" fill="#000"/>
<path d="M224.0,518.5 L224.0,538.0" stroke-width="1.4560000000000002" fill="none"/>
<rect x="268.9" y="529.7" width="7.4" height="5.0" rx="3.4" ry="2.5" fill="white" stroke-width="1.5"/>
<path d="M269.9,532.5 L275.3,532.0" stroke-width="1.12" fill="none"/>
<rect x="270.4" y="534.7" width="4.4" height="10.5" fill="white" stroke-width="1.3"/>
<rect x="270.4" y="540.0" width="4.4" height="5.2" fill="#000" stroke-width="1.3"/>
<path d="M272.9,519.5 L272.9,529.7" stroke-width="1.4560000000000002" fill="none"/>
<path d="M272.9,545.0 L272.9,562.8" stroke-width="1.4560000000000002" fill="none"/>
<path d="M297,508 l0,5 q1,3 6,1 l1,-6" stroke-width="1.344" fill="none"/>
<path d="M299.0,514.0 L278.0,530.6" stroke-width="1.344" fill="none"/>
<path d="M176.4,602.5 L206.0,591.5" stroke-width="1.6800000000000002" fill="none"/>
<path d="M176.4,602.5 L177.4,607.0 L258.3,653.0 L291.4,640.2 L290.4,632.0 L256.4,648.5 L176.4,602.5" stroke-width="1.7920000000000003" fill="white"/>
<path d="M256.4,648.5 L258.3,653.0" stroke-width="1.4560000000000002" fill="none"/>
<ellipse cx="196" cy="607" rx="1.5" ry="1.2" transform="rotate(0 196 607)" stroke-width="1.344" fill="none"/>
<ellipse cx="244" cy="624" rx="1.4" ry="1.2" transform="rotate(0 244 624)" stroke-width="1.344" fill="none"/>
<path d="M210.7,592.7 L204.0,617.3" stroke-width="1.6800000000000002" fill="none"/>
<path d="M213.5,593.0 L207.0,618.0" stroke-width="1.2320000000000002" fill="none"/>
<path d="M207.3,618.2 L254.9,642.8" stroke-width="1.6800000000000002" fill="none"/>
<path d="M221,594.4 L220,607.2 Q220.5,610 222.6,611.4 L254.9,627.5" stroke-width="1.568" fill="none"/>
<path d="M258.3,620.7 L254.9,644.5" stroke-width="1.6800000000000002" fill="none"/>
<path d="M261.0,621.0 L257.7,645.0" stroke-width="1.2320000000000002" fill="none"/>
<ellipse cx="225.2" cy="625" rx="1.5" ry="1.1" transform="rotate(0 225.2 625)" stroke-width="1.344" fill="none"/>
<path d="M192,605 l2,-2.5 l3,1 l0,4 l-3,1 z" stroke-width="1.2320000000000002" fill="none"/>
<path d="M258.3,653.0 L258.5,648.0" stroke-width="1.344" fill="none"/>
<path d="M205.9,572.2 L223.3,563.0 L229.8,565.7 L229.8,585.0 L214.1,591.5 L205.9,588.7 Z" stroke-width="1.7920000000000003" fill="white"/>
<path d="M205.9,572.2 L212.0,575.0 L229.8,565.7" stroke-width="1.4560000000000002" fill="none"/>
<path d="M212.0,575.0 L214.1,591.5" stroke-width="1.4560000000000002" fill="none"/>
<ellipse cx="221.5" cy="580.5" rx="5.2" ry="7.5" transform="rotate(0 221.5 580.5)" stroke-width="1.568" fill="none"/>
<path d="M230,565 L231,588 L248,586 L248,566" stroke-width="1.6800000000000002" fill="white"/>
<ellipse cx="239" cy="554.7" rx="9.2" ry="12" transform="rotate(8 239 554.7)" stroke-width="1.7920000000000003" fill="white"/>
<ellipse cx="240" cy="556" rx="5" ry="8.3" transform="rotate(8 240 556)" stroke-width="1.568" fill="none"/>
<path d="M240.5,549.0 L239.5,570.0" stroke-width="1.7920000000000003" fill="none"/>
<path d="M237.9,594.4 L265.0,582.5 L270.1,586.8 L270.1,592.7 L243.0,603.8 L237.9,601.2 Z" stroke-width="1.7920000000000003" fill="white"/>
<path d="M237.9,594.4 L243.0,597.5 L270.1,586.8" stroke-width="1.4560000000000002" fill="none"/>
<path d="M243.0,597.5 L243.0,603.8" stroke-width="1.4560000000000002" fill="none"/>
<ellipse cx="247.2" cy="594.4" rx="1.6" ry="1.2" transform="rotate(0 247.2 594.4)" stroke-width="1.7920000000000003" fill="#000"/>
<path d="M249.0,591.0 L263.0,585.0" stroke-width="1.12" fill="none"/>
<path d="M266,585 L265,598 L282,596 L282,578" stroke-width="1.6800000000000002" fill="white"/>
<ellipse cx="273.9" cy="572.2" rx="9.2" ry="11" transform="rotate(8 273.9 572.2)" stroke-width="1.7920000000000003" fill="white"/>
<ellipse cx="274.5" cy="573.5" rx="5.5" ry="7.4" transform="rotate(8 274.5 573.5)" stroke-width="1.568" fill="none"/>
<path d="M246.8,569.2 L263.3,577.5" stroke-width="1.4560000000000002" fill="none"/>
<path d="M283,577 l5,-1.5 l6,5 l-1,5 l-5,0 l-5,-4 z" stroke-width="1.4560000000000002" fill="none"/>
<path d="M251,555 l3,-2 l4,4 l0,6 l-3,1.5 l-3.5,-4 z" stroke-width="1.4560000000000002" fill="none"/>
<path d="M240.5,607.0 L262.5,603.0 L279.0,594.5 L285.5,597.0 L285.5,606.0 L274.0,618.0 L264.0,620.0 L242.0,613.0 Z" stroke-width="1.7920000000000003" fill="white"/>
<path d="M262.5,603.0 L264.0,620.0" stroke-width="1.4560000000000002" fill="none"/>
<path d="M256.0,596.0 L279.0,594.5" stroke-width="1.12" fill="none"/>
<ellipse cx="271.9" cy="609.4" rx="5.4" ry="7.6" transform="rotate(0 271.9 609.4)" stroke-width="1.568" fill="none"/>
<path d="M277.6,621.5 L296.6,632.1 L303.4,619.8 L284.4,609.3" stroke-width="1.6800000000000002" fill="white"/>
<path d="M296.8,631.7 L308.8,638.4 L315.2,626.9 L303.2,620.2" stroke-width="1.6800000000000002" fill="white"/>
<path d="M316.9,642.6 L333.9,652.0 L340.1,641.0 L323.1,631.6" stroke-width="1.6800000000000002" fill="white"/>
<path d="M334.9,652.6 L345.9,658.7 L352.1,647.7 L341.1,641.5" stroke-width="1.6800000000000002" fill="white"/>
<path d="M356.1,664.0 L363.1,667.8 L368.9,657.3 L361.9,653.5" stroke-width="1.6800000000000002" fill="white"/>
<ellipse cx="288.9" cy="619.8050000000001" rx="3.0" ry="7.2" transform="rotate(29 288.9 619.8050000000001)" stroke-width="3.4" fill="none"/>
<ellipse cx="277.9" cy="613.7" rx="3.6" ry="7.6" transform="rotate(29 277.9 613.7)" stroke-width="3.6" fill="white"/>
<ellipse cx="277.9" cy="613.7" rx="1.5" ry="4.5" transform="rotate(29 277.9 613.7)" stroke-width="1.2320000000000002" fill="none"/>
<ellipse cx="301.7" cy="626.9090000000001" rx="3.6" ry="7.2" transform="rotate(29 301.7 626.9090000000001)" stroke-width="3.0" fill="white"/>
<ellipse cx="308.7" cy="630.7940000000001" rx="4.6" ry="8.2" transform="rotate(29 308.7 630.7940000000001)" stroke-width="4.2" fill="white"/>
<ellipse cx="308.7" cy="630.7940000000001" rx="1.6" ry="4.0" transform="rotate(29 308.7 630.7940000000001)" stroke-width="1.2320000000000002" fill="none"/>
<path d="M312.0,632.6 L325.0,639.8" stroke-width="12.5" fill="none" style="stroke-linecap:butt"/>
<path d="M349.0,653.2 L360.0,659.3" stroke-width="12.5" fill="none" style="stroke-linecap:butt"/>
<ellipse cx="346.6" cy="651.8285000000001" rx="2.6" ry="6.3" transform="rotate(29 346.6 651.8285000000001)" stroke-width="2.0160000000000005" fill="none"/>
<ellipse cx="337" cy="646.5005000000001" rx="2.4" ry="6.3" transform="rotate(29 337 646.5005000000001)" stroke-width="1.4560000000000002" fill="none"/>
<ellipse cx="320" cy="637.0655" rx="2.4" ry="6.3" transform="rotate(29 320 637.0655)" stroke-width="1.4560000000000002" fill="none"/>
<path d="M247.5,651.0 L247.5,669.0" stroke-width="1.4560000000000002" fill="none"/>
<path d="M275.1,620.0 L275.1,666.0" stroke-width="1.4560000000000002" fill="none"/>
<path d="M285.8,628.0 L285.8,677.7" stroke-width="1.4560000000000002" fill="none"/>
<path d="M297.1,633.0 L297.1,666.4" stroke-width="1.4560000000000002" fill="none"/>
<path d="M309.0,639.0 L309.0,690.4" stroke-width="1.4560000000000002" fill="none"/>
<path d="M197.0,600.0 L197.0,757.0" stroke-width="1.344" fill="none"/>
<path d="M351.5,349 Q352,344 357,343.5 Q362,343 364,346 L368.5,377 L359.5,378 Z" stroke-width="1.6800000000000002" fill="white"/>
<ellipse cx="357.8" cy="345.5" rx="6" ry="2.6" transform="rotate(-10 357.8 345.5)" stroke-width="1.4560000000000002" fill="none"/>
<path d="M359.5,377.0 L360.5,393.0 L368.0,393.0 L368.5,377.0 Z" stroke-width="1.568" fill="white"/>
<path d="M360.0,381.0 L368.0,380.5" stroke-width="1.344" fill="none"/>
<path d="M360.0,384.5 L368.0,384.0" stroke-width="1.344" fill="none"/>
<path d="M360.0,388.0 L368.0,387.5" stroke-width="1.344" fill="none"/>
<path d="M360.0,391.0 L368.0,390.5" stroke-width="1.344" fill="none"/>
<path d="M362.0,395.0 L366.5,395.0" stroke-width="2.4640000000000004" fill="none"/>
<path d="M368.0,357.7 L390.0,357.7" stroke-width="1.4560000000000002" fill="none"/>
<path d="M362.2,400.7 L367.5,424.8" stroke-width="1.6800000000000002" fill="none"/>
<path d="M370.2,399.3 L375.0,423.4" stroke-width="1.6800000000000002" fill="none"/>
<path d="M362.2,400.7 L370.2,399.3" stroke-width="1.4560000000000002" fill="none"/>
<path d="M367.5,424.8 L375.0,423.4" stroke-width="1.4560000000000002" fill="none"/>
<path d="M367.5,425 L367.5,440 C367.5,446 364,448 358,455 L344,468 C341,472 340,476 340,481 L349,540 L368.4,695" stroke-width="1.7920000000000003" fill="none"/>
<path d="M375.5,424 L376,440 C376,447 373,451 368,456 L355,470 C352.5,473 352,476 352,480 L363.2,540 L386,660" stroke-width="1.7920000000000003" fill="none"/>
<path d="M370,430 L370,441 C370,446 367,449 362,454 L347,469 C344,472 343,476 343.5,481 L352,540 L371,693" stroke-width="1.12" fill="none"/>
<path d="M409,347 Q409,341 415,340.5 Q421,341 421.6,347 L417.4,386.6 L409.5,386.6 Z" stroke-width="1.6800000000000002" fill="white"/>
<ellipse cx="415.2" cy="342" rx="5.8" ry="2.6" transform="rotate(0 415.2 342)" stroke-width="1.4560000000000002" fill="none"/>
<path d="M409.5,386.0 L410.0,394.0 L417.0,394.0 L417.4,386.0 Z" stroke-width="1.568" fill="white"/>
<path d="M410.0,388.0 L417.0,388.0" stroke-width="1.344" fill="none"/>
<path d="M410.0,390.5 L417.0,390.5" stroke-width="1.344" fill="none"/>
<path d="M410.0,393.0 L417.0,393.0" stroke-width="1.344" fill="none"/>
<path d="M411.0,396.0 L416.0,396.0" stroke-width="2.4640000000000004" fill="none"/>
<path d="M422.0,357.7 L450.0,357.7" stroke-width="1.4560000000000002" fill="none"/>
<path d="M413.0,397.0 L410.5,422.0" stroke-width="1.2320000000000002" fill="none"/>
<path d="M405,428 Q405,422.5 409,422.5 Q413,422.5 413,428 L413,446 L405,446 Z" stroke-width="1.6800000000000002" fill="white"/>
<ellipse cx="409" cy="428" rx="4" ry="2" transform="rotate(0 409 428)" stroke-width="1.344" fill="none"/>
<path d="M405.0,446.0 L413.0,446.0" stroke-width="1.4560000000000002" fill="none"/>
<path d="M405,447 L405,464 C405,468 402,471 398,475 L384,487 C380,491 378,495 378,499 L383.7,540 L402.6,665 L407.7,716" stroke-width="1.7920000000000003" fill="none"/>
<path d="M412.5,448 L413.4,465.5 C413.5,470 411,473 407,477 L395,487 C392,490 390,493 390,497 L396.1,540 L420,665 L423,684" stroke-width="1.7920000000000003" fill="none"/>
<path d="M408,449 L408,465 C408,469 405,472 401,476 L387,488 C383,491 381,495 381,499 L386.5,540 L405.3,665 L410.3,716" stroke-width="1.12" fill="none"/>
<ellipse cx="386.5" cy="673" rx="7.5" ry="10.5" transform="rotate(20 386.5 673)" stroke-width="3.0" fill="white"/>
<ellipse cx="386.5" cy="673" rx="4.5" ry="7" transform="rotate(20 386.5 673)" stroke-width="1.4560000000000002" fill="none"/>
<path d="M378,666 Q381,659 389,661 L393,664" stroke-width="1.568" fill="none"/>
<path d="M378,684 Q375,690 376.2,699.4 L381.8,706.5" stroke-width="1.6800000000000002" fill="none"/>
<path d="M385,686 Q390,689 387.5,695 Q384,699 380.5,696.5" stroke-width="1.568" fill="none"/>
<ellipse cx="385" cy="691" rx="1.3" ry="1.6" transform="rotate(0 385 691)" stroke-width="1.12" fill="none"/>
<path d="M365.6,694.4 L373.0,693.0 L376.0,698.0 L382.6,704.0 L382.6,714.6 L376.2,715.6 L366.7,708.2 Z" stroke-width="1.7920000000000003" fill="white"/>
<path d="M366.7,700.0 L376.0,706.0 L382.6,704.0" stroke-width="1.344" fill="none"/>
<path d="M376.0,706.0 L376.2,715.6" stroke-width="1.344" fill="none"/>
<path d="M372.0,715.0 L372.0,741.0" stroke-width="1.344" fill="none"/>
<path d="M423,684 Q429,686 433,691" stroke-width="1.7920000000000003" fill="none"/>
<path d="M432.4,691.3 Q426,694 424.7,697.3 Q422.5,701 423,703.2 Q423,707 426,708.3 L431.5,708.3" stroke-width="1.9040000000000001" fill="none"/>
<path d="M420.5,705.7 L425.6,724.4 Q428,730 430.7,729.5 Q434,728 434.9,724.4 L434,712.5" stroke-width="1.6800000000000002" fill="none"/>
<path d="M422.5,707 L427,726" stroke-width="1.12" fill="none"/>
<path d="M413,698 Q416,690 422,685" stroke-width="1.344" fill="none"/>
<path d="M414.5,705 L420.5,709 M419.5,704.5 L415,709" stroke-width="1.2320000000000002" fill="none"/>
<path d="M410,716 Q414,712 419,711" stroke-width="1.4560000000000002" fill="none"/>
<path d="M397.5,719.0 L404.0,716.0 L407.0,718.0 L412.2,718.5 L412.2,729.1 L406.6,734.0 L398.8,730.5 Z" stroke-width="1.7920000000000003" fill="white"/>
<path d="M398.5,721.0 L406.0,724.0 L412.2,720.0" stroke-width="1.344" fill="none"/>
<path d="M406.0,724.0 L406.6,734.0" stroke-width="1.344" fill="none"/>
<path d="M403.8,734.0 L403.8,759.0" stroke-width="1.344" fill="none"/>
<path d="M423,713 Q420,724 428,728 Q434,729 434,722 L432,712" stroke-width="1.568" fill="none"/>
<rect x="386.5" y="627.4" width="7.0" height="5.0" rx="3.2" ry="2.5" fill="white" stroke-width="1.5"/>
<path d="M387.5,630.1 L392.5,629.6" stroke-width="1.12" fill="none"/>
<rect x="387.7" y="632.4" width="4.6" height="14.5" fill="white" stroke-width="1.3"/>
<rect x="387.7" y="639.6" width="4.6" height="7.2" fill="#000" stroke-width="1.3"/>
<ellipse cx="389.8" cy="652.5" rx="4.6" ry="2.4" transform="rotate(0 389.8 652.5)" stroke-width="1.6800000000000002" fill="#000"/>
<path d="M355.0,617.0 L385.8,634.0" stroke-width="1.344" fill="none"/>
<path d="M357.0,635.0 L384.7,651.0" stroke-width="1.344" fill="none"/>
<rect x="420.2" y="637.0" width="7.5" height="5.5" rx="3.4" ry="2.8" fill="white" stroke-width="1.5"/>
<path d="M421.2,640.0 L426.8,639.5" stroke-width="1.12" fill="none"/>
<rect x="421.7" y="642.5" width="4.6" height="12.0" fill="white" stroke-width="1.3"/>
<rect x="421.7" y="648.5" width="4.6" height="6.0" fill="#000" stroke-width="1.3"/>
<ellipse cx="424.5" cy="659.3" rx="3.8" ry="2.6" transform="rotate(0 424.5 659.3)" stroke-width="2.9120000000000004" fill="none"/>
<path d="M428.0,644.0 L442.0,644.0" stroke-width="1.4560000000000002" fill="none"/>
<path d="M429.0,659.0 L442.0,659.0" stroke-width="1.4560000000000002" fill="none"/>
<path d="M423.5,663.0 L423.5,683.0" stroke-width="1.4560000000000002" fill="none"/>
<path d="M339.5,653.0 L339.5,708.0" stroke-width="1.344" fill="none"/>
<path d="M604.2,412.0 L607.9,407.8 L610.7,410.2 L639.6,432.6 L644.2,446.6 L642.4,448.8 L617.2,440.0 L609.8,428.0 Z" stroke-width="1.7920000000000003" fill="white"/>
<path d="M607.0,413.0 L637.0,436.0 L641.0,447.0" stroke-width="1.344" fill="none"/>
<path d="M612.0,426.0 L638.0,442.0" stroke-width="1.12" fill="none"/>
<ellipse cx="618" cy="429" rx="5" ry="4" transform="rotate(-30 618 429)" stroke-width="1.4560000000000002" fill="none"/>
<path d="M607.9,424.2 L637.7,521.0" stroke-width="1.7920000000000003" fill="none"/>
<path d="M611.0,425.0 L640.5,520.0" stroke-width="1.2320000000000002" fill="none"/>
<path d="M623.8,440.0 L654.0,516.0" stroke-width="1.7920000000000003" fill="none"/>
<path d="M637.7,521 L635,545 Q637,553 641.5,554.6 Q646,552 648,540 L652,533" stroke-width="1.7920000000000003" fill="none"/>
<ellipse cx="653.6" cy="527.6" rx="9.3" ry="11.2" transform="rotate(10 653.6 527.6)" stroke-width="2.0160000000000005" fill="white"/>
<ellipse cx="654.5" cy="528.5" rx="5.6" ry="7.5" transform="rotate(10 654.5 528.5)" stroke-width="1.568" fill="none"/>
<path d="M651.0,528.0 L657.0,531.0" stroke-width="1.344" fill="none"/>
<ellipse cx="624.3" cy="511.7" rx="4.6" ry="6.6" transform="rotate(20 624.3 511.7)" stroke-width="3.6" fill="white"/>
<ellipse cx="624.3" cy="511.7" rx="2" ry="3.5" transform="rotate(20 624.3 511.7)" stroke-width="1.344" fill="none"/>
<path d="M629.0,513.0 L637.0,518.0" stroke-width="1.344" fill="none"/>
<path d="M660.0,530.0 L666.0,533.0" stroke-width="1.344" fill="none"/>
<path d="M664.6,543.7 L674.6,549.7 L681.4,538.3 L671.4,532.3" stroke-width="1.568" fill="none"/>
<ellipse cx="668" cy="538" rx="3" ry="6.6" transform="rotate(25 668 538)" stroke-width="1.568" fill="white"/>
<ellipse cx="677.5" cy="543.5" rx="3.5" ry="7" transform="rotate(25 677.5 543.5)" stroke-width="3.4" fill="none"/>
<ellipse cx="684.8" cy="546.2" rx="4.6" ry="7.6" transform="rotate(25 684.8 546.2)" stroke-width="3.4" fill="white"/>
<ellipse cx="684.8" cy="546.2" rx="2" ry="4.2" transform="rotate(25 684.8 546.2)" stroke-width="1.344" fill="none"/>
<path d="M621.3,518.0 L621.3,534.0" stroke-width="1.4560000000000002" fill="none"/>
<path d="M654.5,539.0 L654.5,554.6" stroke-width="1.4560000000000002" fill="none"/>
<path d="M671.6,549.0 L671.6,564.8" stroke-width="1.4560000000000002" fill="none"/>
<path d="M685.2,554.6 L685.2,570.4" stroke-width="1.4560000000000002" fill="none"/>
<path d="M675.9,449.5 L675.9,478.0" stroke-width="1.4560000000000002" fill="none"/>
<path d="M662.9,459.0 L662.9,496.8" stroke-width="1.4560000000000002" fill="none"/>
<path d="M668.5,494.5 L680.0,482.0" stroke-width="3.6" fill="none"/>
<path d="M678,479 l5,-2 l2.5,3.5 l-3,4 l-4,-1.5 z" stroke-width="1.568" fill="white"/>
<path d="M660,499.5 l5,-1.5 l4,3.5 l-4,3 l-5,-2 z" stroke-width="1.568" fill="white"/>
<path d="M662.9,504.3 L654.5,514.0" stroke-width="1.344" fill="none"/>
<path d="M575.8,543.7 L587.0,536.7 L618.2,552.2 L636.0,545.5" stroke-width="1.4560000000000002" fill="none"/>
<path d="M641.5,555.0 L642.8,681.5 L555.4,732.4 L555.4,790.0" stroke-width="1.344" fill="none"/>
<path d="M523.5,566.4 L540.4,559.3" stroke-width="4.6" fill="none"/>
<path d="M541.1,561.1 L553.7,555.8 L552.3,552.2 L539.7,557.5" stroke-width="1.344" fill="none"/>
<path d="M552.0,549.0 L572.0,541.0 L576.0,544.0 L577.0,550.0 L557.0,558.0 L553.0,556.0 Z" stroke-width="1.6800000000000002" fill="white"/>
<path d="M560.0,548.0 L568.0,545.0" stroke-width="1.12" fill="none"/>
<path d="M541.3,518.3 L541.3,550.8" stroke-width="1.4560000000000002" fill="none"/>
<path d="M445.6,563.9 L458.6,570.4 L461.4,564.6 L448.4,558.1" stroke-width="1.568" fill="none"/>
<ellipse cx="460" cy="567.5" rx="1.4400000000000002" ry="3.2" transform="rotate(26.56505117707799 460 567.5)" stroke-width="1.568" fill="none"/>
<ellipse cx="447" cy="561" rx="1.4400000000000002" ry="3.2" transform="rotate(26.56505117707799 447 561)" stroke-width="1.568" fill="white"/>
<path d="M461.2,567.8 L481.0,579.0" stroke-width="1.344" fill="none"/>
<path d="M456.4,538.0 L456.4,560.0" stroke-width="1.4560000000000002" fill="none"/>
<path d="M478.5,580.0 L495.0,573.0 L501.5,575.0 L502.0,583.0 L485.0,590.0 L479.0,588.0 Z" stroke-width="1.6800000000000002" fill="white"/>
<path d="M484.0,582.0 L501.5,575.0" stroke-width="1.2320000000000002" fill="none"/>
<ellipse cx="482" cy="585" rx="1.8" ry="2" transform="rotate(0 482 585)" stroke-width="1.12" fill="none"/>
<path d="M490.4,545.5 L490.4,575.0" stroke-width="1.4560000000000002" fill="none"/>
<ellipse cx="515.7" cy="568.5" rx="4.2" ry="4.6" transform="rotate(0 515.7 568.5)" stroke-width="1.6800000000000002" fill="#000"/>
<ellipse cx="515.7" cy="568.5" rx="1.2" ry="1.4" transform="rotate(0 515.7 568.5)" stroke-width="0.8960000000000001" fill="white"/>
<path d="M502.0,578.0 L511.0,572.0" stroke-width="1.344" fill="none"/>
<path d="M515.8,533.0 L515.8,563.5" stroke-width="1.4560000000000002" fill="none"/>
<path d="M515.2,584.0 L515.2,597.5" stroke-width="2.4640000000000004" fill="none"/>
<path d="M517.0,583.0 L540.4,574.9" stroke-width="1.344" fill="none"/>
<path d="M486.7,586.2 L514.0,599.0" stroke-width="1.344" fill="none"/>
<path d="M577.0,604.5 L624.0,570.0 L629.5,573.5 L582.5,608.0 Z" stroke-width="1.6800000000000002" fill="white"/>
<path d="M577.0,604.5 L575.5,600.0 L622.5,565.5 L624.0,570.0" stroke-width="1.6800000000000002" fill="none"/>
<path d="M622.5,565.5 L628.0,569.0 L629.5,573.5" stroke-width="1.4560000000000002" fill="none"/>
<path d="M582.9,576.5 L582.9,591.8" stroke-width="1.4560000000000002" fill="none"/>
<ellipse cx="570.7" cy="608.8" rx="4.2" ry="4.6" transform="rotate(0 570.7 608.8)" stroke-width="1.6800000000000002" fill="#000"/>
<ellipse cx="570.7" cy="608.8" rx="1.2" ry="1.4" transform="rotate(0 570.7 608.8)" stroke-width="0.8960000000000001" fill="white"/>
<path d="M568.7,585.0 L568.7,603.0" stroke-width="1.4560000000000002" fill="none"/>
<path d="M535.0,630.0 L552.0,619.0 L558.5,621.0 L559.0,628.0 L541.0,638.0 L536.0,636.0 Z" stroke-width="1.6800000000000002" fill="white"/>
<path d="M541.0,632.0 L558.5,621.0" stroke-width="1.2320000000000002" fill="none"/>
<ellipse cx="538.5" cy="633" rx="2" ry="2.3" transform="rotate(0 538.5 633)" stroke-width="1.344" fill="none"/>
<path d="M560.1,622.4 L567.1,616.9 L564.9,614.1 L557.9,619.6" stroke-width="1.344" fill="none"/>
<path d="M539.6,600.5 L539.6,628.6" stroke-width="1.4560000000000002" fill="none"/>
<path d="M499.5,609.8 L513.0,616.8 L516.0,611.2 L502.5,604.2" stroke-width="1.568" fill="none"/>
<ellipse cx="514.5" cy="614" rx="1.4400000000000002" ry="3.2" transform="rotate(27.407575437818405 514.5 614)" stroke-width="1.568" fill="none"/>
<ellipse cx="501" cy="607" rx="1.4400000000000002" ry="3.2" transform="rotate(27.407575437818405 501 607)" stroke-width="1.568" fill="white"/>
<path d="M515.0,614.5 L537.6,628.6" stroke-width="1.344" fill="none"/>
<path d="M505.6,616.0 L505.6,633.0" stroke-width="1.4560000000000002" fill="none"/>
<path d="M566.0,629.0 L566.0,644.0" stroke-width="2.4640000000000004" fill="none"/>
<path d="M567.3,637.7 L595.6,637.7" stroke-width="1.4560000000000002" fill="none"/>
<path d="M544.7,634.3 L564.5,642.8" stroke-width="1.344" fill="none"/>
<path d="M477.0,671.8 L509.4,659.8 L507.4,654.2 L475.0,666.2" stroke-width="1.12" fill="none"/>
<path d="M477.0,668.5 L507.5,657.5" stroke-width="6.2" fill="none"/>
<path d="M508.0,657.0 L517.0,655.0 L519.0,657.5 L515.0,660.0" stroke-width="1.568" fill="none"/>
<path d="M477.0,667.0 L430.0,677.5" stroke-width="1.344" fill="none"/>
<path d="M442,672 q-3,3 1,5" stroke-width="1.344" fill="none"/>
<path d="M481.6,625.0 L481.6,660.0" stroke-width="1.4560000000000002" fill="none"/>
<path d="M509.0,690.0 L546.5,676.0" stroke-width="6.6" fill="none"/>
<path d="M547.0,676.0 L557.0,674.0 L559.0,676.5 L555.0,679.0" stroke-width="1.568" fill="none"/>
<path d="M509.0,689.0 L448.3,702.6" stroke-width="1.344" fill="none"/>
<path d="M478,694 q-3,3 1,5" stroke-width="1.344" fill="none"/>
<path d="M526.0,691.3 L526.0,721.0" stroke-width="1.4560000000000002" fill="none"/>
<path d="M470.0,665.8 L382.5,690.2" stroke-width="1.344" fill="none"/>
<path d="M627.4,567.2 L641.6,555.4" stroke-width="1.344" fill="none"/>
<path d="M614.0,569.0 L626.0,562.0 L628.5,566.0 L617.0,573.0" stroke-width="1.344" fill="none"/>
<path d="M440.5,717.2 L464.5,730.1 L471.5,717.3 L447.5,704.3" stroke-width="1.6800000000000002" fill="white"/>
<path d="M464.5,730.1 L518.5,759.2 L525.5,746.4 L471.5,717.3" stroke-width="1.6800000000000002" fill="white"/>
<path d="M431.0,703.7 L444.0,710.8" stroke-width="13" fill="none" style="stroke-linecap:butt"/>
<ellipse cx="444" cy="710.756" rx="3.2" ry="7.3" transform="rotate(28.3 444 710.756)" stroke-width="1.6800000000000002" fill="white"/>
<ellipse cx="452.6" cy="715.3914000000001" rx="3.0" ry="7.3" transform="rotate(28.3 452.6 715.3914000000001)" stroke-width="1.344" fill="none"/>
<ellipse cx="463" cy="720.9970000000001" rx="2.0" ry="6.3" transform="rotate(28.3 463 720.9970000000001)" stroke-width="1.2320000000000002" fill="none"/>
<ellipse cx="474" cy="726.926" rx="3.8" ry="8.2" transform="rotate(28.3 474 726.926)" stroke-width="3.6" fill="white"/>
<ellipse cx="482.7" cy="731.6153" rx="3.2" ry="7.8" transform="rotate(28.3 482.7 731.6153)" stroke-width="3.136" fill="white"/>
<ellipse cx="489.4" cy="735.2266" rx="2.6" ry="7.3" transform="rotate(28.3 489.4 735.2266)" stroke-width="1.568" fill="none"/>
<ellipse cx="500" cy="740.94" rx="3.8" ry="8.2" transform="rotate(28.3 500 740.94)" stroke-width="3.8" fill="white"/>
<ellipse cx="508" cy="745.2520000000001" rx="2.6" ry="7.3" transform="rotate(28.3 508 745.2520000000001)" stroke-width="1.4560000000000002" fill="none"/>
<ellipse cx="515.5" cy="749.2945" rx="4.6" ry="8.6" transform="rotate(28.3 515.5 749.2945)" stroke-width="3.8" fill="white"/>
<ellipse cx="515.5" cy="749.2945" rx="2.0" ry="4.6" transform="rotate(28.3 515.5 749.2945)" stroke-width="1.344" fill="none"/>
<path d="M465.3,730.0 L465.3,759.0" stroke-width="1.4560000000000002" fill="none"/>
<path d="M479.4,737.0 L479.4,767.7" stroke-width="1.4560000000000002" fill="none"/>
<path d="M490.7,743.0 L490.7,773.4" stroke-width="1.4560000000000002" fill="none"/>
<path d="M502.0,750.0 L502.0,779.0" stroke-width="1.4560000000000002" fill="none"/>
<path d="M513.4,757.5 L513.4,786.0" stroke-width="1.4560000000000002" fill="none"/>
<path d="M513.7,805.6 L531.2,796.2" stroke-width="1.6800000000000002" fill="none"/>
<path d="M574.0,802.0 L590.3,815.6" stroke-width="1.6800000000000002" fill="none"/>
<path d="M513.7,805.6 L560.1,837.2 L590.3,815.6 L590.3,818.5 L560.1,840.0 L513.7,808.5 L513.7,805.6" stroke-width="1.6800000000000002" fill="none"/>
<path d="M560.1,837.2 L560.1,840.0" stroke-width="1.344" fill="none"/>
<ellipse cx="522.5" cy="808.3" rx="1.6" ry="1.2" transform="rotate(0 522.5 808.3)" stroke-width="1.344" fill="none"/>
<ellipse cx="582.3" cy="815.6" rx="1.6" ry="1.2" transform="rotate(0 582.3 815.6)" stroke-width="1.344" fill="none"/>
<ellipse cx="559.4" cy="829.1" rx="1.6" ry="1.2" transform="rotate(0 559.4 829.1)" stroke-width="1.344" fill="none"/>
<path d="M537.3,782.0 L527.2,815.6" stroke-width="1.6800000000000002" fill="none"/>
<path d="M540.0,783.0 L530.0,817.0" stroke-width="1.12" fill="none"/>
<path d="M557.4,795.5 L544.0,823.7" stroke-width="1.6800000000000002" fill="none"/>
<path d="M560.0,797.0 L547.0,824.0" stroke-width="1.12" fill="none"/>
<path d="M562.8,798.2 L562.8,817.0" stroke-width="1.4560000000000002" fill="none"/>
<path d="M572.2,799.5 L572.2,819.7" stroke-width="1.6800000000000002" fill="none"/>
<path d="M527.2,815.6 L544.0,810.0 L550.0,805.0 L557.0,801.0" stroke-width="1.12" fill="none"/>
<path d="M521.8,769.3 L522.5,773.3 L545.3,786.1 L554.0,781.4 L554.0,757.8 L549.4,755.2" stroke-width="1.7920000000000003" fill="white"/>
<path d="M545.3,767.3 L545.3,786.1" stroke-width="1.4560000000000002" fill="none"/>
<ellipse cx="550.5" cy="773" rx="2.6" ry="5.5" transform="rotate(0 550.5 773)" stroke-width="1.4560000000000002" fill="none"/>
<path d="M517.8,761.2 L541.3,743.7 L549.4,749.8 L549.4,755.2 L522.5,768.6 L517.8,763.9 Z" stroke-width="1.7920000000000003" fill="white"/>
<path d="M517.8,761.2 L522.5,763.5 L549.4,749.8" stroke-width="1.4560000000000002" fill="none"/>
<path d="M522.5,763.5 L522.5,768.6" stroke-width="1.4560000000000002" fill="none"/>
<ellipse cx="525.2" cy="758.5" rx="1.6" ry="1.2" transform="rotate(0 525.2 758.5)" stroke-width="2.0160000000000005" fill="#000"/>
<path d="M554.7,772.6 L569.5,763.9 L588.3,775.3 L588.3,791.5 L574.9,800.9 L554.7,791.5 Z" stroke-width="1.7920000000000003" fill="white"/>
<path d="M554.7,772.6 L573.6,784.7 L588.3,775.3" stroke-width="1.4560000000000002" fill="none"/>
<path d="M573.6,784.7 L574.9,800.9" stroke-width="1.4560000000000002" fill="none"/>
<ellipse cx="580.5" cy="787.4" rx="3.8" ry="6.2" transform="rotate(10 580.5 787.4)" stroke-width="1.568" fill="none"/>
<path d="M555.4,732.4 L555.4,772.0" stroke-width="1.344" fill="none"/>
<path d="M579.7,797.9 L622.7,820.7 L629.3,808.3 L586.3,785.5" stroke-width="1.6800000000000002" fill="white"/>
<ellipse cx="585.5" cy="793.0" rx="3.6" ry="8.0" transform="rotate(28 585.5 793.0)" stroke-width="3.6" fill="white"/>
<ellipse cx="591.5" cy="796.18" rx="2.4" ry="7.0" transform="rotate(28 591.5 796.18)" stroke-width="1.344" fill="none"/>
<ellipse cx="598" cy="799.625" rx="3.6" ry="8.0" transform="rotate(28 598 799.625)" stroke-width="3.6" fill="white"/>
<ellipse cx="604" cy="802.805" rx="2.4" ry="7.0" transform="rotate(28 604 802.805)" stroke-width="1.344" fill="none"/>
<ellipse cx="611" cy="806.515" rx="4.2" ry="8.2" transform="rotate(28 611 806.515)" stroke-width="4.6" fill="white"/>
<ellipse cx="619.5" cy="811.02" rx="3.8" ry="8.2" transform="rotate(28 619.5 811.02)" stroke-width="3.8" fill="white"/>
<path d="M624,815 Q626,806 636,805 Q646,806 646,818 Q645,826 640,830 L638,844 Q635,850 630,849 Q626,847 626,842 L624,822 Z" stroke-width="1.7920000000000003" fill="white"/>
<ellipse cx="636.5" cy="818" rx="5.4" ry="7.2" transform="rotate(15 636.5 818)" stroke-width="3.6" fill="white"/>
<ellipse cx="636.5" cy="818" rx="2" ry="3" transform="rotate(15 636.5 818)" stroke-width="1.344" fill="none"/>
<path d="M633.0,805.0 L644.0,804.0 L645.0,810.0" stroke-width="1.4560000000000002" fill="none"/>
<ellipse cx="631" cy="845" rx="1.8" ry="2" transform="rotate(0 631 845)" stroke-width="1.344" fill="none"/>
<rect x="635.2" y="760.5" width="8.5" height="6.5" rx="3.9" ry="3.2" fill="white" stroke-width="1.5"/>
<path d="M636.2,764.1 L642.8,763.4" stroke-width="1.12" fill="none"/>
<rect x="637.0" y="767.0" width="5.0" height="13.0" fill="white" stroke-width="1.3"/>
<rect x="637.0" y="774.1" width="5.0" height="5.9" fill="#000" stroke-width="1.3"/>
<ellipse cx="639.8" cy="792" rx="5" ry="3" transform="rotate(0 639.8 792)" stroke-width="3.0" fill="#000"/>
<path d="M639.6,780.0 L639.6,806.0" stroke-width="1.4560000000000002" fill="none"/>
<path d="M643.5,769.0 L661.9,769.0" stroke-width="1.4560000000000002" fill="none"/>
<path d="M645.5,792.0 L661.9,792.0" stroke-width="1.4560000000000002" fill="none"/>
<path d="M645.5,811.7 L661.9,811.7" stroke-width="1.4560000000000002" fill="none"/>
<path d="M643.2,824.2 L668.0,838.8" stroke-width="1.344" fill="none"/>
<path d="M667,838 l7,-1 l7,6 l-2,5 l-8,-2 z" stroke-width="1.568" fill="white"/>
<path d="M672.3,848.0 L672.3,879.0" stroke-width="1.4560000000000002" fill="none"/>
<path d="M590.8,767.0 L590.8,786.8" stroke-width="1.4560000000000002" fill="none"/>
<path d="M603.7,774.3 L603.7,794.0" stroke-width="1.4560000000000002" fill="none"/>
<path d="M603.7,813.8 L603.7,837.7" stroke-width="1.4560000000000002" fill="none"/>
<path d="M615.0,817.0 L615.0,844.0" stroke-width="1.4560000000000002" fill="none"/>
<path d="M571.9,833.5 L571.9,862.7" stroke-width="1.4560000000000002" fill="none"/>
<rect x="514.8" y="818.6" width="7.0" height="5.0" rx="3.2" ry="2.5" fill="white" stroke-width="1.5"/>
<path d="M515.8,821.4 L520.8,820.9" stroke-width="1.12" fill="none"/>
<rect x="516.1" y="823.6" width="4.4" height="10.5" fill="white" stroke-width="1.3"/>
<rect x="516.1" y="829.4" width="4.4" height="4.7" fill="#000" stroke-width="1.3"/>
<path d="M499.5,822.9 L514.5,822.9" stroke-width="1.4560000000000002" fill="none"/>
<ellipse cx="518.3" cy="843.2" rx="3.8" ry="2.8" transform="rotate(0 518.3 843.2)" stroke-width="1.568" fill="#000"/>
<path d="M503.0,842.8 L514.0,842.8" stroke-width="1.4560000000000002" fill="none"/>
<path d="M522.0,841.0 L556.0,825.0" stroke-width="1.344" fill="none"/>
<path d="M563,855 q-1,6 -6,10" stroke-width="1.344" fill="none"/>
<path d="M557.0,863.0 L555.0,868.0" stroke-width="2.688" fill="none"/>
<path d="M462.7,859.7 L542.0,859.7 L591.0,893.7 L594.8,971.0 L462.7,971.0 L462.7,859.7" stroke-width="1.6800000000000002" fill="none"/>
<path d="M473.9,939.2 L496.6,927.3 L510.0,931.0 L528.3,935.2" stroke-width="1.6800000000000002" fill="none"/>
<path d="M547.1,944.1 L569.9,952.0 L570.9,956.0 L547.1,969.9 L533.3,962.9 L500.6,959.0 L473.9,943.1 L473.9,939.2" stroke-width="1.6800000000000002" fill="none"/>
<path d="M473.9,939.2 L500.6,954.0 L533.3,958.0 L547.1,965.5 L569.9,952.0" stroke-width="1.344" fill="none"/>
<ellipse cx="484.8" cy="940.1" rx="2.2" ry="1.6" transform="rotate(0 484.8 940.1)" stroke-width="1.344" fill="none"/>
<ellipse cx="557" cy="952" rx="2.2" ry="1.6" transform="rotate(0 557 952)" stroke-width="1.344" fill="none"/>
<path d="M497.6,902.5 L492.7,948.0" stroke-width="1.6800000000000002" fill="none"/>
<path d="M501.5,904.0 L496.0,950.0" stroke-width="1.12" fill="none"/>
<path d="M508.5,905.5 L499.6,950.0" stroke-width="1.6800000000000002" fill="none"/>
<path d="M529.3,916.4 L532.3,958.0" stroke-width="1.6800000000000002" fill="none"/>
<path d="M533.0,918.0 L536.0,959.0" stroke-width="1.12" fill="none"/>
<path d="M552.0,930.2 L553.0,958.0" stroke-width="1.6800000000000002" fill="none"/>
<path d="M545.0,926.0 L546.0,960.0" stroke-width="1.12" fill="none"/>
<path d="M537,930 Q539,950 545,952" stroke-width="1.12" fill="none"/>
<path d="M499.6,950.0 L528.0,937.0" stroke-width="1.12" fill="none"/>
<path d="M478.8,883.7 L504.6,868.9 L517.4,876.8 L514.5,884.7 L491.7,895.6 L478.8,886.7 Z" stroke-width="1.6800000000000002" fill="white"/>
<path d="M478.8,883.7 L491.7,891.0 L517.4,876.8" stroke-width="1.344" fill="none"/>
<path d="M491.7,891.0 L491.7,895.6" stroke-width="1.344" fill="none"/>
<ellipse cx="492.7" cy="881.7" rx="2.4" ry="1.8" transform="rotate(-20 492.7 881.7)" stroke-width="1.7920000000000003" fill="#000"/>
<path d="M491.7,895.6 L497.6,902.5" stroke-width="1.344" fill="none"/>
<path d="M508.0,893.0 L520.0,905.0" stroke-width="1.344" fill="none"/>
<path d="M519.4,888.7 L527.3,865.9 L539.2,866.9 L546.1,876.8 L546.1,892.6 L531.3,900.5 Z" stroke-width="1.6800000000000002" fill="white"/>
<path d="M527.3,865.9 L532.0,872.0 L531.3,900.5" stroke-width="1.344" fill="none"/>
<path d="M534.0,872.0 L540.0,870.0 L538.0,885.0 L533.0,888.0" stroke-width="1.344" fill="none"/>
<path d="M526,890 L558,905 M521,912 L553,927" stroke-width="1.6800000000000002" fill="none"/>
<ellipse cx="558" cy="916.4" rx="9.5" ry="11.4" transform="rotate(10 558 916.4)" stroke-width="1.7920000000000003" fill="white"/>
<ellipse cx="559" cy="916.4" rx="5.8" ry="7.6" transform="rotate(10 559 916.4)" stroke-width="1.568" fill="none"/>
<ellipse cx="524.4" cy="901" rx="7" ry="11.4" transform="rotate(10 524.4 901)" stroke-width="1.7920000000000003" fill="white"/>
<ellipse cx="525" cy="901" rx="4" ry="7.5" transform="rotate(10 525 901)" stroke-width="1.4560000000000002" fill="none"/>
<path d="M526,890 L558,905 L553,927 L521,912 Z" fill="white" style="stroke:none"/>
<path d="M526,890 L558,905 M521,912 L553,927" stroke-width="1.6800000000000002" fill="none"/>
<ellipse cx="558" cy="916.4" rx="9.5" ry="11.4" transform="rotate(10 558 916.4)" stroke-width="1.7920000000000003" fill="none"/>
<ellipse cx="559" cy="916.4" rx="5.8" ry="7.6" transform="rotate(10 559 916.4)" stroke-width="1.568" fill="none"/>
<path d="M557.0,936.2 L569.9,936.2" stroke-width="1.4560000000000002" fill="none"/>
<path d="M381.6,939.3 L394.8,932.1 L416.4,942.9 L403.2,950.1 L381.6,939.3" stroke-width="1.4560000000000002" fill="white"/>
<path d="M406.1,948.5 L393.1,942.0 L393.3,940.8 L395.5,940.7 L408.5,947.2" stroke-width="1.3832" fill="none"/>
<path d="M411.1,945.8 L398.2,939.3 L398.3,938.1 L400.5,938.0 L413.5,944.5" stroke-width="1.3832" fill="none"/>
<path d="M381.6,932.0 L394.8,924.8 L416.4,935.6 L403.2,942.8 L381.6,932.0" stroke-width="1.4560000000000002" fill="white"/>
<path d="M406.1,941.2 L393.1,934.7 L393.3,933.5 L395.5,933.4 L408.5,939.9" stroke-width="1.3832" fill="none"/>
<path d="M411.1,938.5 L398.2,932.0 L398.3,930.8 L400.5,930.7 L413.5,937.2" stroke-width="1.3832" fill="none"/>
<path d="M381.6,924.7 L394.8,917.5 L416.4,928.3 L403.2,935.5 L381.6,924.7" stroke-width="1.4560000000000002" fill="white"/>
<path d="M406.1,933.9 L393.1,927.4 L393.3,926.2 L395.5,926.1 L408.5,932.6" stroke-width="1.3832" fill="none"/>
<path d="M411.1,931.2 L398.2,924.7 L398.3,923.5 L400.5,923.4 L413.5,929.9" stroke-width="1.3832" fill="none"/>
<path d="M381.6,917.4 L394.8,910.2 L416.4,921.0 L403.2,928.2 L381.6,917.4" stroke-width="1.4560000000000002" fill="white"/>
<path d="M406.1,926.6 L393.1,920.1 L393.3,918.9 L395.5,918.8 L408.5,925.3" stroke-width="1.3832" fill="none"/>
<path d="M411.1,923.9 L398.2,917.4 L398.3,916.2 L400.5,916.1 L413.5,922.6" stroke-width="1.3832" fill="none"/>
<path d="M381.6,910.1 L394.8,902.9 L416.4,913.7 L403.2,920.9 L381.6,910.1" stroke-width="1.4560000000000002" fill="white"/>
<path d="M406.1,919.3 L393.1,912.8 L393.3,911.6 L395.5,911.5 L408.5,918.0" stroke-width="1.3832" fill="none"/>
<path d="M411.1,916.6 L398.2,910.1 L398.3,908.9 L400.5,908.8 L413.5,915.3" stroke-width="1.3832" fill="none"/>
<path d="M381.6,902.8 L394.8,895.6 L416.4,906.4 L403.2,913.6 L381.6,902.8" stroke-width="1.4560000000000002" fill="white"/>
<path d="M406.1,912.0 L393.1,905.5 L393.3,904.3 L395.5,904.2 L408.5,910.7" stroke-width="1.3832" fill="none"/>
<path d="M411.1,909.3 L398.2,902.8 L398.3,901.6 L400.5,901.5 L413.5,908.0" stroke-width="1.3832" fill="none"/>
<path d="M417.0,907.7 L435.7,907.7" stroke-width="1.4560000000000002" fill="none"/>
<path d="M417.0,914.9 L435.7,914.9" stroke-width="1.4560000000000002" fill="none"/>
<path d="M417.0,922.1 L435.7,922.1" stroke-width="1.4560000000000002" fill="none"/>
<path d="M417.0,929.3 L435.7,929.3" stroke-width="1.4560000000000002" fill="none"/>
<path d="M417.0,936.5 L435.7,936.5" stroke-width="1.4560000000000002" fill="none"/>
<path d="M435.7,907.0 L435.7,937.0" stroke-width="1.568" fill="none"/>
<path d="M435.7,922.0 L451.0,922.0" stroke-width="1.4560000000000002" fill="none"/>
<path d="M339.5,959.7 L352.7,952.5 L374.3,963.3 L361.1,970.5 L339.5,959.7" stroke-width="1.4560000000000002" fill="white"/>
<path d="M364.0,968.9 L351.0,962.4 L351.2,961.2 L353.4,961.1 L366.4,967.6" stroke-width="1.3832" fill="none"/>
<path d="M369.0,966.2 L356.1,959.7 L356.2,958.5 L358.4,958.4 L371.4,964.9" stroke-width="1.3832" fill="none"/>
<path d="M339.5,952.1 L352.7,944.9 L374.3,955.7 L361.1,962.9 L339.5,952.1" stroke-width="1.4560000000000002" fill="white"/>
<path d="M364.0,961.3 L351.0,954.8 L351.2,953.6 L353.4,953.5 L366.4,960.0" stroke-width="1.3832" fill="none"/>
<path d="M369.0,958.6 L356.1,952.1 L356.2,950.9 L358.4,950.8 L371.4,957.3" stroke-width="1.3832" fill="none"/>
<path d="M339.5,944.5 L352.7,937.3 L374.3,948.1 L361.1,955.3 L339.5,944.5" stroke-width="1.4560000000000002" fill="white"/>
<path d="M364.0,953.7 L351.0,947.2 L351.2,946.0 L353.4,945.9 L366.4,952.4" stroke-width="1.3832" fill="none"/>
<path d="M369.0,951.0 L356.1,944.5 L356.2,943.3 L358.4,943.2 L371.4,949.7" stroke-width="1.3832" fill="none"/>
<path d="M339.5,936.9 L352.7,929.7 L374.3,940.5 L361.1,947.7 L339.5,936.9" stroke-width="1.4560000000000002" fill="white"/>
<path d="M364.0,946.1 L351.0,939.6 L351.2,938.4 L353.4,938.3 L366.4,944.8" stroke-width="1.3832" fill="none"/>
<path d="M369.0,943.4 L356.1,936.9 L356.2,935.7 L358.4,935.6 L371.4,942.1" stroke-width="1.3832" fill="none"/>
<path d="M339.5,929.3 L352.7,922.1 L374.3,932.9 L361.1,940.1 L339.5,929.3" stroke-width="1.4560000000000002" fill="white"/>
<path d="M364.0,938.5 L351.0,932.0 L351.2,930.8 L353.4,930.7 L366.4,937.2" stroke-width="1.3832" fill="none"/>
<path d="M369.0,935.8 L356.1,929.3 L356.2,928.1 L358.4,928.0 L371.4,934.5" stroke-width="1.3832" fill="none"/>
<path d="M326.3,929.3 L339.5,929.3" stroke-width="1.4560000000000002" fill="none"/>
<path d="M326.3,936.8 L339.5,936.8" stroke-width="1.4560000000000002" fill="none"/>
<path d="M326.3,944.3 L339.5,944.3" stroke-width="1.4560000000000002" fill="none"/>
<path d="M326.3,951.8 L339.5,951.8" stroke-width="1.4560000000000002" fill="none"/>
<path d="M326.3,959.3 L339.5,959.3" stroke-width="1.4560000000000002" fill="none"/>
<path d="M326.3,929.0 L326.3,960.0" stroke-width="1.568" fill="none"/>
<path d="M310.0,944.5 L326.3,944.5" stroke-width="1.4560000000000002" fill="none"/>
<path d="M186.6,758.0 L250.2,722.7 L299.2,749.6 L299.2,761.0 L283.0,768.0 L283.0,773.0 L288.0,776.0 L288.0,781.0 L276.0,787.0" stroke-width="1.6800000000000002" fill="white"/>
<path d="M186.6,758.0 L272.9,794.9" stroke-width="1.6800000000000002" fill="none"/>
<path d="M188.0,763.7 L272.9,799.5" stroke-width="1.3440000000000003" fill="none"/>
<path d="M186.6,758.0 L188.0,792.0" stroke-width="1.6800000000000002" fill="none"/>
<path d="M272.9,794.9 L276.0,787.0" stroke-width="1.6800000000000002" fill="none"/>
<path d="M299.2,761.0 L300.0,790.0" stroke-width="1.6800000000000002" fill="none"/>
<path d="M206.4,775.0 L189.4,814.7" stroke-width="1.6800000000000002" fill="none"/>
<path d="M209.0,777.0 L193.0,814.0" stroke-width="1.176" fill="none"/>
<path d="M169.8,801.2 L186.8,792.7 L202.3,802.6 L189.6,811.0 L169.8,805.5 L169.8,801.2" stroke-width="1.6800000000000002" fill="white"/>
<ellipse cx="179.7" cy="799.2" rx="1.6" ry="1.3" transform="rotate(0 179.7 799.2)" stroke-width="1.344" fill="none"/>
<path d="M209.4,802.6 L210.8,805.5 L266.0,832.3 L271.6,832.3 L291.4,838.0 L297.1,850.7 L348.0,876.2" stroke-width="1.6800000000000002" fill="none"/>
<path d="M209.0,803.0 L214.0,801.0" stroke-width="1.3440000000000003" fill="none"/>
<path d="M274.3,792.0 L284.0,789.0 L299.7,797.0 L299.7,812.0 L290.0,817.5 L274.3,809.0" stroke-width="1.6800000000000002" fill="white"/>
<ellipse cx="280.2" cy="800.7" rx="3.6" ry="4.2" transform="rotate(0 280.2 800.7)" stroke-width="1.6800000000000002" fill="none"/>
<ellipse cx="291.6" cy="804.6" rx="3.6" ry="4.2" transform="rotate(0 291.6 804.6)" stroke-width="1.6800000000000002" fill="none"/>
<path d="M295.5,831.3 L322.2,812.2 L401.1,855.5 L369.3,875.8 L295.5,831.3" stroke-width="1.6800000000000002" fill="white"/>
<path d="M295.5,831.3 L296.5,835.0 L369.3,879.5 L401.1,859.0 L401.1,855.5" stroke-width="1.6800000000000002" fill="none"/>
<path d="M369.3,875.8 L369.3,879.5" stroke-width="1.6800000000000002" fill="none"/>
<path d="M299.7,812.0 L322.2,812.2" stroke-width="1.3440000000000003" fill="none"/>
<path d="M290.0,817.5 L296.0,825.0 L295.5,831.3" stroke-width="1.3440000000000003" fill="none"/>
<path d="M346.4,866.0 L339.0,898.7" stroke-width="1.6800000000000002" fill="none"/>
<path d="M349.5,868.0 L343.0,898.0" stroke-width="1.176" fill="none"/>
<path d="M379.0,873.0 L379.0,902.0" stroke-width="1.6800000000000002" fill="none"/>
<path d="M398.0,862.0 L398.0,885.0" stroke-width="1.6800000000000002" fill="none"/>
<path d="M360.0,878.0 L360.0,905.0" stroke-width="1.3440000000000003" fill="none"/>
<path d="M339.0,898.7 L361.6,907.7 L416.4,879.7 L402.4,872.0" stroke-width="1.6800000000000002" fill="none"/>
<path d="M339.0,898.7 L339.0,901.0 L361.6,911.0 L416.4,883.0 L416.4,879.7" stroke-width="1.3440000000000003" fill="none"/>
<ellipse cx="197.0" cy="758.7" rx="1.5" ry="1.2" transform="rotate(0 197.0 758.7)" stroke-width="1.344" fill="none"/>
<ellipse cx="251.6" cy="727.0" rx="1.5" ry="1.2" transform="rotate(0 251.6 727.0)" stroke-width="1.344" fill="none"/>
<ellipse cx="291.8" cy="751.0" rx="1.5" ry="1.2" transform="rotate(0 291.8 751.0)" stroke-width="1.344" fill="none"/>
<ellipse cx="246.0" cy="756.7" rx="1.5" ry="1.2" transform="rotate(0 246.0 756.7)" stroke-width="1.344" fill="none"/>
<ellipse cx="226.0" cy="775.6" rx="1.5" ry="1.2" transform="rotate(0 226.0 775.6)" stroke-width="1.344" fill="none"/>
<ellipse cx="252.2" cy="792.0" rx="1.5" ry="1.2" transform="rotate(0 252.2 792.0)" stroke-width="1.344" fill="none"/>
<ellipse cx="275.7" cy="778.0" rx="1.5" ry="1.2" transform="rotate(0 275.7 778.0)" stroke-width="1.344" fill="none"/>
<ellipse cx="305.0" cy="832.0" rx="1.5" ry="1.2" transform="rotate(0 305.0 832.0)" stroke-width="1.344" fill="none"/>
<ellipse cx="326.0" cy="817.0" rx="1.5" ry="1.2" transform="rotate(0 326.0 817.0)" stroke-width="1.344" fill="none"/>
<ellipse cx="345.0" cy="857.0" rx="1.5" ry="1.2" transform="rotate(0 345.0 857.0)" stroke-width="1.344" fill="none"/>
<ellipse cx="374.0" cy="845.0" rx="1.5" ry="1.2" transform="rotate(0 374.0 845.0)" stroke-width="1.344" fill="none"/>
<ellipse cx="350.0" cy="898.0" rx="1.5" ry="1.2" transform="rotate(0 350.0 898.0)" stroke-width="1.344" fill="none"/>
<ellipse cx="370.0" cy="903.0" rx="1.5" ry="1.2" transform="rotate(0 370.0 903.0)" stroke-width="1.344" fill="none"/>
<ellipse cx="404.0" cy="878.0" rx="1.5" ry="1.2" transform="rotate(0 404.0 878.0)" stroke-width="1.344" fill="none"/>
<path d="M359.1,783.0 L359.6,830.0" stroke-width="1.4560000000000002" fill="none"/>
<path d="M359.1,783.0 L359.1,791.0" stroke-width="2.4640000000000004" fill="none"/>
<rect x="177.0" y="749.6" width="8.0" height="5.5" rx="3.6" ry="2.8" fill="white" stroke-width="1.5"/>
<path d="M178.0,752.6 L184.0,752.1" stroke-width="1.12" fill="none"/>
<rect x="178.7" y="755.1" width="4.6" height="14.5" fill="white" stroke-width="1.3"/>
<rect x="178.7" y="763.1" width="4.6" height="6.5" fill="#000" stroke-width="1.3"/>
<path d="M147.5,752.5 L176.5,752.5" stroke-width="1.4560000000000002" fill="none"/>
<ellipse cx="181" cy="777.5" rx="4.2" ry="3" transform="rotate(0 181 777.5)" stroke-width="3.2" fill="#000"/>
<path d="M147.5,777.5 L176.5,777.5" stroke-width="1.4560000000000002" fill="none"/>
<path d="M181.0,781.0 L181.0,793.0" stroke-width="1.344" fill="none"/>
<path d="M171.2,809.0 L171.2,812.0 L189.5,822.0 L203.7,815.0 L203.7,812.0" stroke-width="1.6800000000000002" fill="white"/>
<path d="M171.2,809.0 L186.0,805.0 L203.7,812.0" stroke-width="1.4560000000000002" fill="none"/>
<path d="M171.2,814.2 L171.2,817.2 L189.5,827.2 L203.7,820.2 L203.7,817.2" stroke-width="1.6800000000000002" fill="white"/>
<path d="M171.2,814.2 L186.0,810.2 L203.7,817.2" stroke-width="1.4560000000000002" fill="none"/>
<path d="M171.2,819.4 L171.2,822.4 L189.5,832.4 L203.7,825.4 L203.7,822.4" stroke-width="1.6800000000000002" fill="white"/>
<path d="M171.2,819.4 L186.0,815.4 L203.7,822.4" stroke-width="1.4560000000000002" fill="none"/>
<path d="M171.2,824.6 L171.2,827.6 L189.5,837.6 L203.7,830.6 L203.7,827.6" stroke-width="1.6800000000000002" fill="white"/>
<path d="M171.2,824.6 L186.0,820.6 L203.7,827.6" stroke-width="1.4560000000000002" fill="none"/>
<path d="M171.2,829.8 L171.2,832.8 L189.5,842.8 L203.7,835.8 L203.7,832.8" stroke-width="1.6800000000000002" fill="white"/>
<path d="M171.2,829.8 L186.0,825.8 L203.7,832.8" stroke-width="1.4560000000000002" fill="none"/>
<path d="M158.5,812.0 L171.0,812.0" stroke-width="1.568" fill="none"/>
<path d="M158.5,817.5 L171.0,817.5" stroke-width="1.568" fill="none"/>
<path d="M158.5,823.0 L171.0,823.0" stroke-width="1.568" fill="none"/>
<path d="M158.5,828.5 L171.0,828.5" stroke-width="1.568" fill="none"/>
<path d="M158.5,811.0 L158.5,832.3 L171.0,832.3" stroke-width="1.568" fill="none"/>
<path d="M146.0,822.0 L158.5,822.0" stroke-width="1.4560000000000002" fill="none"/>
<path d="M193,858 q0,-5 5,-6 l5,-1 q5,2 4,8 l-4,4 q-6,2 -10,-5 z" stroke-width="1.6800000000000002" fill="white"/>
<path d="M206.0,853.0 L212.0,851.0 L213.0,855.0 L208.0,857.0" stroke-width="1.568" fill="white"/>
<path d="M176.0,858.0 L192.0,858.0" stroke-width="1.4560000000000002" fill="none"/>
<path d="M210.6,852.9 L291.2,806.2" stroke-width="1.344" fill="none"/>
<path d="M133.4,877.2 L223.6,877.2 L284.9,912.1 L284.9,971.0 L134.6,971.0 L133.4,877.2" stroke-width="1.6800000000000002" fill="none"/>
<path d="M133.4,877.8 L150.0,877.8" stroke-width="2.9120000000000004" fill="none"/>
<path d="M165.3,900.0 L180.6,891.9 L183.0,894.0 L186.0,891.0 L184.0,888.0 L190.7,885.1 L213.6,896.1 L213.6,902.0 L207.0,906.0 L208.0,910.0 L205.0,912.0" stroke-width="1.344" fill="white"/>
<path d="M165.3,900.0 L177.2,906.0" stroke-width="1.344" fill="none"/>
<path d="M165.3,900.0 L165.3,912.5" stroke-width="1.344" fill="none"/>
<path d="M177.2,906.0 L178.0,919.9" stroke-width="1.344" fill="none"/>
<path d="M158.5,915.6 L168.7,912.2 L178.0,919.9 L168.7,923.3 L159.3,919.9 L158.5,915.6" stroke-width="1.344" fill="white"/>
<ellipse cx="165" cy="918" rx="1.3" ry="1.0" transform="rotate(0 165 918)" stroke-width="1.12" fill="none"/>
<path d="M177.2,906.0 L258.6,941.1" stroke-width="1.344" fill="none"/>
<path d="M178.0,909.0 L205.0,921.0" stroke-width="1.12" fill="none"/>
<path d="M178.0,919.9 L234.9,947.9" stroke-width="1.344" fill="none"/>
<path d="M205.0,912.0 L258.0,935.0" stroke-width="1.12" fill="none"/>
<path d="M258.6,941.1 L258.6,948.0" stroke-width="1.344" fill="none"/>
<path d="M231.5,954.7 L238.3,944.5 L258.6,942.8 L267.1,949.6 L265.4,954.7 L245.0,964.9 L231.5,959.8 L231.5,954.7" stroke-width="1.344" fill="white"/>
<path d="M238.3,944.5 L245.0,957.0 L245.0,964.9" stroke-width="1.12" fill="none"/>
<path d="M245.0,957.0 L265.4,949.6" stroke-width="1.12" fill="none"/>
<ellipse cx="237" cy="958" rx="1.3" ry="1.0" transform="rotate(0 237 958)" stroke-width="1.12" fill="none"/>
<ellipse cx="262" cy="950" rx="1.3" ry="1.0" transform="rotate(0 262 950)" stroke-width="1.12" fill="none"/>
<path d="M204.3,914.0 L216.0,915.0 L216.2,924.0 L205.0,923.0 L204.3,914.0" stroke-width="1.344" fill="#333"/>
<path d="M210.0,930.0 L220.0,926.0 L232.0,930.0" stroke-width="1.12" fill="none"/>
<ellipse cx="192" cy="887" rx="0.9" ry="0.8" transform="rotate(0 192 887)" stroke-width="1.0080000000000002" fill="none"/>
<ellipse cx="211" cy="897" rx="0.9" ry="0.8" transform="rotate(0 211 897)" stroke-width="1.0080000000000002" fill="none"/>
<ellipse cx="183" cy="904" rx="0.9" ry="0.8" transform="rotate(0 183 904)" stroke-width="1.0080000000000002" fill="none"/>
<ellipse cx="195" cy="910" rx="0.9" ry="0.8" transform="rotate(0 195 910)" stroke-width="1.0080000000000002" fill="none"/>
<ellipse cx="226" cy="925" rx="0.9" ry="0.8" transform="rotate(0 226 925)" stroke-width="1.0080000000000002" fill="none"/>
<ellipse cx="244" cy="934" rx="0.9" ry="0.8" transform="rotate(0 244 934)" stroke-width="1.0080000000000002" fill="none"/>
<ellipse cx="173" cy="898" rx="0.9" ry="0.8" transform="rotate(0 173 898)" stroke-width="1.0080000000000002" fill="none"/>
<path d="M242.5,901.2 L242.5,908.0 L234.9,926.7" stroke-width="1.344" fill="none"/>
<path d="M1,2 H8 Q6,7 1,10 M5,6 L9,10" transform="translate(224.12,77.50) scale(0.920)" stroke-width="2.07" fill="none"/>
<path d="M2,1 H8 M1,4 H9 M5,4 Q5,8 2,10" transform="translate(236.75,77.50) scale(0.920)" stroke-width="2.07" fill="none"/>
<path d="M1,1.5 H9 Q8,4 5.5,5 M5,3 Q5,8 2,10" transform="translate(249.38,77.50) scale(0.920)" stroke-width="2.07" fill="none"/>
<path d="M3,2 V6 M7,1 V5 Q7,9 3,10" transform="translate(262.02,77.50) scale(0.920)" stroke-width="2.07" fill="none"/>
<path d="M2,2 L4,4 M2,10 Q7,8 9,3" transform="translate(274.65,77.50) scale(0.920)" stroke-width="2.07" fill="none"/>
<path d="M4,1 Q3,4 1,5 M4,2.5 H8 Q7,8 2,10 M8,0 l1,1.5 M9.8,0 l1,1.5" transform="translate(287.28,77.50) scale(0.920)" stroke-width="2.07" fill="none"/>
<path d="M1,2 H8 V9 H1" transform="translate(311.88,76.80) scale(0.920)" stroke-width="2.07" fill="none"/>
<path d="M2,2 L4,4 M2,10 Q7,8 9,3" transform="translate(324.85,76.80) scale(0.920)" stroke-width="2.07" fill="none"/>
<path d="M4,1 V10 M4,5 L8,7" transform="translate(337.82,76.80) scale(0.920)" stroke-width="2.07" fill="none"/>
<path d="M2,2 H8 V9 H2 Z" transform="translate(350.78,76.80) scale(0.920)" stroke-width="2.07" fill="none"/>
<path d="M1,5.5 H9" transform="translate(363.75,76.80) scale(0.920)" stroke-width="2.07" fill="none"/>
<path d="M3.5,2 Q3.5,8 1,10 M6,1 V9.5 L9.5,6.5" transform="translate(376.72,76.80) scale(0.920)" stroke-width="2.07" fill="none"/>
<path d="M3,1 V9 L9,5" transform="translate(402.80,75.80) scale(0.900)" stroke-width="2.11" fill="none"/>
<path d="M3.5,3.5 Q3,7.5 1,10 M6,3 L9,9 M8,0 l1,1.5 M9.8,0 l1,1.5" transform="translate(413.40,75.80) scale(0.900)" stroke-width="2.11" fill="none"/>
<path d="M1,5.5 H9" transform="translate(424.00,75.80) scale(0.900)" stroke-width="2.11" fill="none"/>
<path d="M3,8 q1,1 -1,3" transform="translate(434.60,75.80) scale(0.900)" stroke-width="2.11" fill="none"/>
<path d="M4,1 Q3,4 1,5 M4,2.5 H8 Q7,8 2,10" transform="translate(462.89,75.00) scale(0.900)" stroke-width="2.11" fill="none"/>
<path d="M2,1 H8 M1,4 H8 Q7,8 3,10" transform="translate(475.06,75.00) scale(0.900)" stroke-width="2.11" fill="none"/>
<path d="M2,5 l1,2 M4.5,4.5 l1,2 M8,4.5 Q7.5,9 4,10" transform="translate(487.24,75.00) scale(0.900)" stroke-width="2.11" fill="none"/>
<path d="M7.5,1 L2,2.2 M1,5 H9 M5,2 Q5,8 2,10" transform="translate(499.41,75.00) scale(0.900)" stroke-width="2.11" fill="none"/>
<path d="M1,3 H7 M4,1 V9 Q2,10 2,7.5 Q5,5 8,7 Q8.5,10 5,10 M8,1.5 l1,1.2" transform="translate(526.82,74.20) scale(0.960)" stroke-width="2.08" fill="none"/>
<path d="M4,1 V8 Q2,10 2,8 Q5,6 9,9 M4,4 H8" transform="translate(539.05,74.20) scale(0.960)" stroke-width="2.08" fill="none"/>
<path d="M1,2 H3.5 Q1,8 4.5,9.5 Q9,10 8,2 M8.5,0 l1,1.5 M10.2,0 l1,1.5" transform="translate(551.28,74.20) scale(0.960)" stroke-width="2.08" fill="none"/>
<path d="M1,2 H8 Q7,8 2,10 M8.5,0 l1,1.5 M10.2,0 l1,1.5" transform="translate(578.95,73.50) scale(0.900)" stroke-width="2.11" fill="none"/>
<path d="M3,1 V9 L9,5" transform="translate(590.25,73.50) scale(0.900)" stroke-width="2.11" fill="none"/>
<path d="M1,5.5 H9" transform="translate(601.55,73.50) scale(0.900)" stroke-width="2.11" fill="none"/>
<path d="M2,3.5 H8 M1,6.5 H9 M4,1 L6,10" transform="translate(612.85,73.50) scale(0.900)" stroke-width="2.11" fill="none"/>
<path d="M1,7 L4,3.5 L9.5,8.5 M8.7,1.5 m-1.3,0 a1.3,1.3 0 1,0 2.6,0 a1.3,1.3 0 1,0 -2.6,0" transform="translate(641.17,73.20) scale(0.900)" stroke-width="2.11" fill="none"/>
<path d="M4,1 Q3,4 1,5 M4,2.5 H8 Q7,8 2,10 M3,5 L7,7 M8.5,0 l1,1.5 M10.2,0 l1,1.5" transform="translate(655.30,73.20) scale(0.900)" stroke-width="2.11" fill="none"/>
<path d="M3.5,2 Q3.5,8 1,10 M6,1 V9.5 L9.5,6.5" transform="translate(669.43,73.20) scale(0.900)" stroke-width="2.11" fill="none"/>
<path d="M1,2 H8 Q7,8 2,10 M8.5,0 l1,1.5 M10.2,0 l1,1.5" transform="translate(231.64,331.40) scale(0.480)" stroke-width="2.29" fill="none"/>
<path d="M3,1 V9 L9,5" transform="translate(237.71,331.40) scale(0.480)" stroke-width="2.29" fill="none"/>
<path d="M1,5.5 H9" transform="translate(243.79,331.40) scale(0.480)" stroke-width="2.29" fill="none"/>
<path d="M2,3.5 H8 M1,6.5 H9 M4,1 L6,10" transform="translate(249.86,331.40) scale(0.480)" stroke-width="2.29" fill="none"/>
<path d="M1,7 L4,3.5 L9.5,8.5 M8.7,1.5 m-1.3,0 a1.3,1.3 0 1,0 2.6,0 a1.3,1.3 0 1,0 -2.6,0" transform="translate(262.60,331.40) scale(0.480)" stroke-width="2.29" fill="none"/>
<path d="M4,1 Q3,4 1,5 M4,2.5 H8 Q7,8 2,10 M3,5 L7,7 M8.5,0 l1,1.5 M10.2,0 l1,1.5" transform="translate(269.00,331.40) scale(0.480)" stroke-width="2.29" fill="none"/>
<path d="M3.5,2 Q3.5,8 1,10 M6,1 V9.5 L9.5,6.5" transform="translate(275.40,331.40) scale(0.480)" stroke-width="2.29" fill="none"/>
<path d="M1,2 H8 Q6,7 1,10 M5,6 L9,10" transform="translate(424.55,370.30) scale(0.390)" stroke-width="2.56" fill="none"/>
<path d="M2,1 H8 M1,4 H9 M5,4 Q5,8 2,10" transform="translate(431.55,370.30) scale(0.390)" stroke-width="2.56" fill="none"/>
<path d="M1,1.5 H9 Q8,4 5.5,5 M5,3 Q5,8 2,10" transform="translate(438.55,370.30) scale(0.390)" stroke-width="2.56" fill="none"/>
<path d="M3,2 V6 M7,1 V5 Q7,9 3,10" transform="translate(445.55,370.30) scale(0.390)" stroke-width="2.56" fill="none"/>
<path d="M2,2 L4,4 M2,10 Q7,8 9,3" transform="translate(452.55,370.30) scale(0.390)" stroke-width="2.56" fill="none"/>
<path d="M4,1 Q3,4 1,5 M4,2.5 H8 Q7,8 2,10 M8,0 l1,1.5 M9.8,0 l1,1.5" transform="translate(459.55,370.30) scale(0.390)" stroke-width="2.56" fill="none"/>
<path d="M1,2 H8 V9 H1" transform="translate(475.56,370.30) scale(0.390)" stroke-width="2.56" fill="none"/>
<path d="M2,2 L4,4 M2,10 Q7,8 9,3" transform="translate(483.57,370.30) scale(0.390)" stroke-width="2.56" fill="none"/>
<path d="M4,1 V10 M4,5 L8,7" transform="translate(491.59,370.30) scale(0.390)" stroke-width="2.56" fill="none"/>
<path d="M2,2 H8 V9 H2 Z" transform="translate(499.61,370.30) scale(0.390)" stroke-width="2.56" fill="none"/>
<path d="M1,5.5 H9" transform="translate(507.62,370.30) scale(0.390)" stroke-width="2.56" fill="none"/>
<path d="M3.5,2 Q3.5,8 1,10 M6,1 V9.5 L9.5,6.5" transform="translate(515.64,370.30) scale(0.390)" stroke-width="2.56" fill="none"/>
<path d="M3,1 V9 L9,5" transform="translate(535.05,370.30) scale(0.390)" stroke-width="2.56" fill="none"/>
<path d="M3.5,3.5 Q3,7.5 1,10 M6,3 L9,9 M8,0 l1,1.5 M9.8,0 l1,1.5" transform="translate(541.05,370.30) scale(0.390)" stroke-width="2.56" fill="none"/>
<path d="M1,5.5 H9" transform="translate(547.05,370.30) scale(0.390)" stroke-width="2.56" fill="none"/>
<path d="M4,1 Q3,4 1,5 M4,2.5 H8 Q7,8 2,10" transform="translate(637.54,409.90) scale(0.420)" stroke-width="2.62" fill="none"/>
<path d="M2,1 H8 M1,4 H8 Q7,8 3,10" transform="translate(644.81,409.90) scale(0.420)" stroke-width="2.62" fill="none"/>
<path d="M2,5 l1,2 M4.5,4.5 l1,2 M8,4.5 Q7.5,9 4,10" transform="translate(652.09,409.90) scale(0.420)" stroke-width="2.62" fill="none"/>
<path d="M7.5,1 L2,2.2 M1,5 H9 M5,2 Q5,8 2,10" transform="translate(659.36,409.90) scale(0.420)" stroke-width="2.62" fill="none"/>
<path d="M1,7 L4,3.5 L9.5,8.5 M8.7,1.5 m-1.3,0 a1.3,1.3 0 1,0 2.6,0 a1.3,1.3 0 1,0 -2.6,0" transform="translate(675.98,409.90) scale(0.420)" stroke-width="2.62" fill="none"/>
<path d="M4,1 Q3,4 1,5 M4,2.5 H8 Q7,8 2,10 M3,5 L7,7 M8.5,0 l1,1.5 M10.2,0 l1,1.5" transform="translate(683.95,409.90) scale(0.420)" stroke-width="2.62" fill="none"/>
<path d="M3.5,2 Q3.5,8 1,10 M6,1 V9.5 L9.5,6.5" transform="translate(691.92,409.90) scale(0.420)" stroke-width="2.62" fill="none"/>
<path d="M4,1 H10 M5,3 H9 V5 H5 Z M4,6 H10 V10 M6,7 H8 V9 H6 M1,1 l1,1 M1,4 l1.5,1 M1,9 Q3,10 10,10 M2,6 V9" transform="translate(487.75,451.30) scale(0.740)" stroke-width="1.76" fill="none"/>
<path d="M2,1 H9 V10 M2,1 V7 Q2,9 1,10 M2,4 H9 M2,7 H9 M5.5,1 V10" transform="translate(497.05,451.30) scale(0.740)" stroke-width="1.76" fill="none"/>
<path d="M2,1 H8 V3.5 H2 Z M1,5 H9 M3,5 L2,7 H8 Q8,10 5,10" transform="translate(506.35,451.30) scale(0.740)" stroke-width="1.76" fill="none"/>
<path d="M2.5,1 V10 M1,3.5 H4 M2.5,4 L1,8 M2.5,5 L4,7 M5,1 l1,2 M8,1 l1,2 M5,4 H10 M7,4 Q7,8 9,10 M6,7 L5,10 M9,6 L7,9" transform="translate(515.65,451.30) scale(0.740)" stroke-width="1.76" fill="none"/>
<path d="M4,1 H10 M5,3 H9 V5 H5 Z M4,6 H10 V10 M6,7 H8 V9 H6 M1,1 l1,1 M1,4 l1.5,1 M1,9 Q3,10 10,10 M2,6 V9" transform="translate(452.46,839.80) scale(0.740)" stroke-width="1.76" fill="none"/>
<path d="M2,1 H9 V10 M2,1 V7 Q2,9 1,10 M2,4 H9 M2,7 H9 M5.5,1 V10" transform="translate(460.79,839.80) scale(0.740)" stroke-width="1.76" fill="none"/>
<path d="M2,1 H8 V3.5 H2 Z M1,5 H9 M3,5 L2,7 H8 Q8,10 5,10" transform="translate(469.11,839.80) scale(0.740)" stroke-width="1.76" fill="none"/>
<path d="M2.5,1 V10 M1,3.5 H4 M2.5,4 L1,8 M2.5,5 L4,7 M5,1 l1,2 M8,1 l1,2 M5,4 H10 M7,4 Q7,8 9,10 M6,7 L5,10 M9,6 L7,9" transform="translate(477.44,839.80) scale(0.740)" stroke-width="1.76" fill="none"/>
<path d="M4,1 H10 M5,3 H9 V5 H5 Z M4,6 H10 V10 M6,7 H8 V9 H6 M1,1 l1,1 M1,4 l1.5,1 M1,9 Q3,10 10,10 M2,6 V9" transform="translate(139.66,948.00) scale(0.850)" stroke-width="1.53" fill="none"/>
<path d="M2,1 H9 V10 M2,1 V7 Q2,9 1,10 M2,4 H9 M2,7 H9 M5.5,1 V10" transform="translate(148.69,948.00) scale(0.850)" stroke-width="1.53" fill="none"/>
<path d="M2,1 H8 V3.5 H2 Z M1,5 H9 M3,5 L2,7 H8 Q8,10 5,10" transform="translate(157.71,948.00) scale(0.850)" stroke-width="1.53" fill="none"/>
<path d="M2.5,1 V10 M1,3.5 H4 M2.5,4 L1,8 M2.5,5 L4,7 M5,1 l1,2 M8,1 l1,2 M5,4 H10 M7,4 Q7,8 9,10 M6,7 L5,10 M9,6 L7,9" transform="translate(166.74,948.00) scale(0.850)" stroke-width="1.53" fill="none"/>
</svg>
</body></html>
